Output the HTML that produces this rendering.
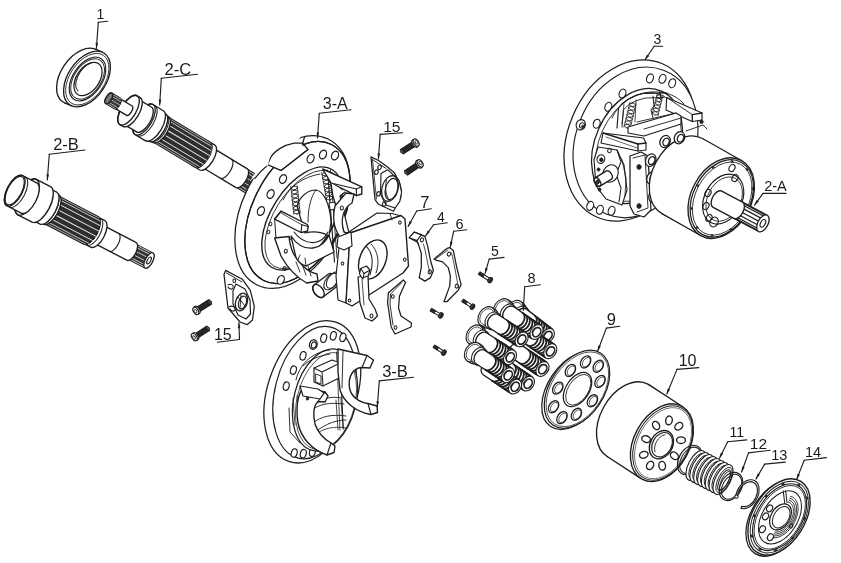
<!DOCTYPE html>
<html><head><meta charset="utf-8"><style>
html,body{margin:0;padding:0;background:#fff;width:841px;height:563px;overflow:hidden}
svg{display:block;filter:grayscale(1)}
text{font-family:"Liberation Sans",sans-serif;fill:#1a1a1a;stroke:none}
</style></head><body>
<svg width="841" height="563" viewBox="0 0 841 563" stroke="#1e1e1e" stroke-width="1.35" fill="none" stroke-linejoin="round" stroke-linecap="round">
<rect width="841" height="563" fill="#fff" stroke="none"/>
<ellipse cx="80" cy="76" rx="19" ry="31" fill="#fff" transform="rotate(34 80 76)"/>
<path d="M64.6,102.8 L71.6,105.8 L102.4,52.2 L95.4,49.2Z" fill="#fff" stroke="none"/>
<line x1="64.6" y1="102.8" x2="71.6" y2="105.8"/>
<line x1="95.4" y1="49.2" x2="102.4" y2="52.2"/>
<ellipse cx="87" cy="79" rx="19" ry="31" fill="#fff" transform="rotate(34 87 79)"/>
<ellipse cx="87.3" cy="79.2" rx="17.5" ry="28.8" fill="none" stroke-width="0.80" transform="rotate(34 87.3 79.2)"/>
<ellipse cx="87.5" cy="79" rx="14.6" ry="24.5" fill="none" stroke-width="1.15" transform="rotate(34 87.5 79)"/>
<ellipse cx="87.6" cy="79" rx="13.5" ry="22.6" fill="none" stroke-width="0.92" transform="rotate(34 87.6 79)"/>
<ellipse cx="88" cy="79" rx="11.4" ry="18.6" fill="#fff" stroke-width="1.26" transform="rotate(34 88 79)"/>
<path d="M78,91 A9.9,17.1 34 0 1 91,63" fill="none" stroke-width="1.03"/>
<path d="M235.4,186.7 L250,195.4 A4.7,10.5 31 0 0 260.8,177.4 L246.2,168.7 A4.7,10.5 31 0 0 235.4,186.7Z" fill="#333"/>
<line x1="246.8" y1="170" x2="259.7" y2="177.8" stroke="#ddd" stroke-width="0.9"/>
<line x1="247.3" y1="173.3" x2="260.2" y2="181.1" stroke="#ddd" stroke-width="0.9"/>
<line x1="246.1" y1="177.8" x2="258.9" y2="185.5" stroke="#ddd" stroke-width="0.9"/>
<line x1="243.4" y1="182.2" x2="256.3" y2="190" stroke="#ddd" stroke-width="0.9"/>
<line x1="240.1" y1="185.4" x2="252.9" y2="193.2" stroke="#ddd" stroke-width="0.9"/>
<line x1="236.9" y1="186.6" x2="249.8" y2="194.3" stroke="#ddd" stroke-width="0.9"/>
<path d="M201.7,167 L236,187.6 A5,11 31 0 0 247.4,168.8 L213.1,148.2 A5,11 31 0 0 201.7,167Z" fill="#fff"/>
<ellipse cx="207.4" cy="157.6" rx="5" ry="11" fill="none" transform="rotate(31 207.4 157.6)"/>
<path d="M220.6,178.3 A5,11 31 0 0 231.9,159.5" fill="none" stroke-width="1.15"/>
<path d="M193.1,165.9 L199.9,170 A6.5,14.5 31 0 0 214.9,145.2 L208,141 A6.5,14.5 31 0 0 193.1,165.9Z" fill="#fff"/>
<ellipse cx="200.5" cy="153.5" rx="6.5" ry="14.5" fill="none" transform="rotate(31 200.5 153.5)"/>
<path d="M195.6,167.4 A6.5,14.5 31 0 0 210.6,142.6" fill="none" stroke-width="1.03"/>
<path d="M153.6,142.2 L194.8,166.9 A6.5,14.5 31 0 0 209.7,142.1 L168.6,117.3 A6.5,14.5 31 0 0 153.6,142.2Z" fill="#2e2e2e"/>
<ellipse cx="161.1" cy="129.8" rx="6.5" ry="14.5" fill="#fff" stroke-width="1.15" transform="rotate(31 161.1 129.8)"/>
<line x1="169.3" y1="118.6" x2="210.5" y2="143.3" stroke="#eeeeee" stroke-width="0.6072996771088706"/>
<line x1="170.2" y1="121.6" x2="211.4" y2="146.3" stroke="#eeeeee" stroke-width="0.8055636281607813"/>
<line x1="169.8" y1="125.9" x2="210.9" y2="150.6" stroke="#eeeeee" stroke-width="0.9573082867663999"/>
<line x1="168" y1="130.7" x2="209.2" y2="155.4" stroke="#eeeeee" stroke-width="1.0394319042217768"/>
<line x1="165.2" y1="135.4" x2="206.3" y2="160.1" stroke="#eeeeee" stroke-width="1.0394319042217768"/>
<line x1="161.7" y1="139.3" x2="202.9" y2="164" stroke="#eeeeee" stroke-width="0.9573082867664"/>
<line x1="158.2" y1="141.7" x2="199.3" y2="166.4" stroke="#eeeeee" stroke-width="0.8055636281607812"/>
<line x1="155.1" y1="142.3" x2="196.2" y2="167" stroke="#eeeeee" stroke-width="0.6072996771088707"/>
<path d="M150,140.6 L153.4,142.6 A6.8,15 31 0 0 168.8,116.9 L165.4,114.9 A6.8,15 31 0 0 150,140.6Z" fill="#fff"/>
<ellipse cx="157.7" cy="127.7" rx="6.8" ry="15" fill="none" transform="rotate(31 157.7 127.7)"/>
<path d="M151.7,141.6 A6.8,15 31 0 0 167.1,115.9" fill="none" stroke-width="1.03"/>
<path d="M146,139.4 L149.4,141.4 A7.2,16 31 0 0 165.9,114 L162.5,111.9 A7.2,16 31 0 0 146,139.4Z" fill="#fff"/>
<ellipse cx="154.3" cy="125.7" rx="7.2" ry="16" fill="none" transform="rotate(31 154.3 125.7)"/>
<path d="M135,134.5 L145.2,140.7 A7.9,17.5 31 0 0 163.3,110.7 L153,104.5 A7.9,17.5 31 0 0 135,134.5Z" fill="#fff"/>
<ellipse cx="144" cy="119.5" rx="7.9" ry="17.5" fill="none" transform="rotate(31 144 119.5)"/>
<path d="M137.1,135.8 A7.9,17.5 31 0 0 155.1,105.8" fill="none" stroke-width="1.03"/>
<path d="M124.1,124.4 L136.5,131.9 A6.5,14.5 31 0 0 151.4,107 L139,99.6 A6.5,14.5 31 0 0 124.1,124.4Z" fill="#fff"/>
<ellipse cx="131.5" cy="112" rx="6.5" ry="14.5" fill="none" transform="rotate(31 131.5 112)"/>
<path d="M119.9,124.6 L122.9,126.4 A7.6,16.8 31 0 0 140.2,97.6 L137.2,95.8 A7.6,16.8 31 0 0 119.9,124.6Z" fill="#fff"/>
<ellipse cx="128.5" cy="110.2" rx="7.6" ry="16.8" fill="none" transform="rotate(31 128.5 110.2)"/>
<path d="M114.6,108.2 L126.6,115.4 A2.5,5.5 31 0 0 132.2,106 L120.2,98.8 A2.5,5.5 31 0 0 114.6,108.2Z" fill="#fff"/>
<ellipse cx="117.4" cy="103.5" rx="2.5" ry="5.5" fill="none" transform="rotate(31 117.4 103.5)"/>
<path d="M105.7,103.5 L114.3,108.6 A2.7,6 31 0 0 120.5,98.4 L111.9,93.2 A2.7,6 31 0 0 105.7,103.5Z" fill="#3a3a3a"/>
<line x1="112.3" y1="94.1" x2="120.9" y2="99.3" stroke="#ccc" stroke-width="0.8"/>
<line x1="112.4" y1="96.6" x2="121" y2="101.8" stroke="#ccc" stroke-width="0.8"/>
<line x1="111.1" y1="99.7" x2="119.7" y2="104.9" stroke="#ccc" stroke-width="0.8"/>
<line x1="109" y1="102.4" x2="117.5" y2="107.5" stroke="#ccc" stroke-width="0.8"/>
<line x1="106.8" y1="103.4" x2="115.3" y2="108.6" stroke="#ccc" stroke-width="0.8"/>
<ellipse cx="108.8" cy="98.4" rx="2.7" ry="6" fill="#777" transform="rotate(31 108.8 98.4)"/>
<path d="M127.9,259.1 L145.1,268 A3.8,8.5 27.5 0 0 152.9,253 L135.7,244 A3.8,8.5 27.5 0 0 127.9,259.1Z" fill="#333"/>
<line x1="136.3" y1="245.1" x2="151.7" y2="253.1" stroke="#ddd" stroke-width="0.9"/>
<line x1="136.8" y1="247.7" x2="152.3" y2="255.8" stroke="#ddd" stroke-width="0.9"/>
<line x1="136" y1="251.4" x2="151.5" y2="259.4" stroke="#ddd" stroke-width="0.9"/>
<line x1="134.1" y1="255.1" x2="149.5" y2="263.1" stroke="#ddd" stroke-width="0.9"/>
<line x1="131.5" y1="257.9" x2="147" y2="265.9" stroke="#ddd" stroke-width="0.9"/>
<line x1="129.1" y1="258.9" x2="144.5" y2="267" stroke="#ddd" stroke-width="0.9"/>
<ellipse cx="149" cy="260.5" rx="3.8" ry="8.5" fill="#fff" stroke-width="1.26" transform="rotate(27.5 149 260.5)"/>
<ellipse cx="149" cy="260.5" rx="1.7" ry="3.8" fill="#fff" stroke-width="1.15" transform="rotate(27.5 149 260.5)"/>
<path d="M93.5,242.9 L127.2,260.4 A4.5,10 27.5 0 0 136.4,242.7 L102.7,225.1 A4.5,10 27.5 0 0 93.5,242.9Z" fill="#fff"/>
<ellipse cx="98.1" cy="234" rx="4.5" ry="10" fill="none" transform="rotate(27.5 98.1 234)"/>
<path d="M109.4,251.2 A4.5,10 27.5 0 0 118.7,233.4" fill="none" stroke-width="1.15"/>
<path d="M84.1,243.6 L91.2,247.3 A6.8,15 27.5 0 0 105,220.7 L97.9,217 A6.8,15 27.5 0 0 84.1,243.6Z" fill="#fff"/>
<ellipse cx="91" cy="230.3" rx="6.8" ry="15" fill="none" transform="rotate(27.5 91 230.3)"/>
<path d="M86.7,245 A6.8,15 27.5 0 0 100.6,218.4" fill="none" stroke-width="1.03"/>
<path d="M43.9,223.3 L83.8,244.1 A7,15.5 27.5 0 0 98.1,216.6 L58.2,195.8 A7,15.5 27.5 0 0 43.9,223.3Z" fill="#2e2e2e"/>
<ellipse cx="51.1" cy="209.5" rx="7" ry="15.5" fill="#fff" stroke-width="1.15" transform="rotate(27.5 51.1 209.5)"/>
<line x1="59.1" y1="197.1" x2="99" y2="217.9" stroke="#eeeeee" stroke-width="0.6072996771088706"/>
<line x1="60.3" y1="200.2" x2="100.2" y2="221" stroke="#eeeeee" stroke-width="0.8055636281607813"/>
<line x1="60.1" y1="204.8" x2="100" y2="225.6" stroke="#eeeeee" stroke-width="0.9573082867663999"/>
<line x1="58.5" y1="210.1" x2="98.4" y2="230.9" stroke="#eeeeee" stroke-width="1.0394319042217768"/>
<line x1="55.8" y1="215.3" x2="95.7" y2="236.1" stroke="#eeeeee" stroke-width="1.0394319042217768"/>
<line x1="52.4" y1="219.6" x2="92.3" y2="240.4" stroke="#eeeeee" stroke-width="0.9573082867664"/>
<line x1="48.7" y1="222.4" x2="88.6" y2="243.2" stroke="#eeeeee" stroke-width="0.8055636281607812"/>
<line x1="45.5" y1="223.2" x2="85.4" y2="244" stroke="#eeeeee" stroke-width="0.6072996771088707"/>
<path d="M39,221.9 L43.4,224.2 A7.4,16.5 27.5 0 0 58.7,194.9 L54.3,192.6 A7.4,16.5 27.5 0 0 39,221.9Z" fill="#fff"/>
<ellipse cx="46.6" cy="207.2" rx="7.4" ry="16.5" fill="none" transform="rotate(27.5 46.6 207.2)"/>
<path d="M41.7,223.2 A7.4,16.5 27.5 0 0 56.9,194" fill="none" stroke-width="1.03"/>
<path d="M33,220.4 L40.1,224.1 A8.1,18 27.5 0 0 56.7,192.2 L49.6,188.5 A8.1,18 27.5 0 0 33,220.4Z" fill="#fff"/>
<ellipse cx="41.3" cy="204.5" rx="8.1" ry="18" fill="none" transform="rotate(27.5 41.3 204.5)"/>
<path d="M17.9,214.8 L32.1,222.2 A9,20 27.5 0 0 50.5,186.7 L36.4,179.3 A9,20 27.5 0 0 17.9,214.8Z" fill="#fff"/>
<ellipse cx="27.1" cy="197.1" rx="9" ry="20" fill="none" transform="rotate(27.5 27.1 197.1)"/>
<path d="M6.9,205.7 L21,213.1 A7.7,17 27.5 0 0 36.7,182.9 L22.5,175.5 A7.7,17 27.5 0 0 6.9,205.7Z" fill="#fff"/>
<ellipse cx="14.7" cy="190.6" rx="7.7" ry="17" fill="none" transform="rotate(27.5 14.7 190.6)"/>
<ellipse cx="14.7" cy="190.6" rx="7" ry="15.6" fill="none" stroke-width="1.03" transform="rotate(27.5 14.7 190.6)"/>
<path d="M9.5,207.1 A7.7,17 27.5 0 0 25.2,176.9" fill="none" stroke-width="1.03"/>
<ellipse cx="629.8" cy="140.5" rx="62.1" ry="83.4" fill="#fff" stroke-width="1.26" transform="rotate(22.6 629.8 140.5)"/>
<ellipse cx="635.5" cy="142.4" rx="59.6" ry="77.4" fill="#fff" stroke-width="1.15" transform="rotate(21.7 635.5 142.4)"/>
<ellipse cx="650" cy="78.4" rx="3.3" ry="4.6" fill="#fff" stroke-width="1.15" transform="rotate(20 650 78.4)"/>
<ellipse cx="662.5" cy="78.8" rx="3.3" ry="4.6" fill="#fff" stroke-width="1.15" transform="rotate(20 662.5 78.8)"/>
<ellipse cx="672.2" cy="83.2" rx="3.3" ry="4.6" fill="#fff" stroke-width="1.15" transform="rotate(20 672.2 83.2)"/>
<ellipse cx="622.5" cy="93.5" rx="3.3" ry="4.6" fill="#fff" stroke-width="1.15" transform="rotate(20 622.5 93.5)"/>
<ellipse cx="608.3" cy="106.8" rx="3.3" ry="4.6" fill="#fff" stroke-width="1.15" transform="rotate(20 608.3 106.8)"/>
<ellipse cx="596.7" cy="123.7" rx="3.3" ry="4.6" fill="#fff" stroke-width="1.15" transform="rotate(20 596.7 123.7)"/>
<ellipse cx="590.2" cy="205.9" rx="3.3" ry="4.6" fill="#fff" stroke-width="1.15" transform="rotate(20 590.2 205.9)"/>
<ellipse cx="599.9" cy="209.8" rx="3.3" ry="4.6" fill="#fff" stroke-width="1.15" transform="rotate(20 599.9 209.8)"/>
<ellipse cx="611.6" cy="210.8" rx="3.3" ry="4.6" fill="#fff" stroke-width="1.15" transform="rotate(20 611.6 210.8)"/>
<ellipse cx="580.8" cy="124.8" rx="4.6" ry="5.2" fill="#fff" stroke-width="1.15" transform="rotate(20 580.8 124.8)"/>
<ellipse cx="582" cy="125.5" rx="2.4" ry="2.8" fill="none" stroke-width="1.03" transform="rotate(20 582 125.5)"/>
<ellipse cx="582.8" cy="126.5" rx="1.2" ry="1.4" fill="#333" stroke-width="0.57"/>
<ellipse cx="637" cy="146" rx="42" ry="60" fill="#fff" stroke-width="1.26" transform="rotate(24 637 146)"/>
<ellipse cx="638.5" cy="147" rx="39.5" ry="57" fill="none" stroke-width="0.80" transform="rotate(24 638.5 147)"/>
<path d="M612,118 C618,104 632,94 650,92 C665,91 676,95 684,104" fill="none" stroke-width="0.92"/>
<path d="M617,128 L618.5,108 C624,100 633,95.5 643,93.5 L667,93" fill="none" stroke-width="1.15"/>
<path d="M622,127 L623.5,110 C628,104 636,100 646,98 L664,97.5" fill="none" stroke-width="0.92"/>
<path d="M633,103 L631.8,103.1 L630.7,103.3 L629.9,103.6 L629.5,103.9 L629.5,104.4 L629.9,104.9 L630.6,105.5 L631.6,106.2 L632.6,106.9 L633.6,107.5 L634.3,108.2 L634.8,108.7 L634.8,109.2 L634.4,109.5 L633.7,109.8 L632.7,110 L631.5,110.1 L630.2,110.3 L629.1,110.4 L628.3,110.7 L627.8,111 L627.8,111.4 L628.1,112 L628.8,112.6 L629.7,113.2 L630.7,113.9 L631.7,114.6 L632.5,115.2 L633,115.8 L633.1,116.2 L632.8,116.6 L632.1,116.9 L631.1,117.1 L629.9,117.2 L628.7,117.4 L627.6,117.6 L626.7,117.8 L626.2,118.1 L626,118.5 L626.3,119 L626.9,119.6 L627.8,120.3 L628.9,121 L629.9,121.6 L630.7,122.3 L631.2,122.8 L631.4,123.3 L631.2,123.7 L630.5,124 L629.6,124.2 L628.4,124.4 L627.2,124.5 L626,124.7 L625.1,124.9 L624.5,125.2 L624.3,125.6 L624.5,126.1 L625.1,126.7 L626,127.3 L627,128" stroke-width="0.9"/>
<path d="M633,103 L634,103.7 L634.9,104.3 L635.5,104.9 L635.7,105.4 L635.5,105.8 L634.9,106.1 L634,106.3 L632.8,106.5 L631.6,106.6 L630.4,106.8 L629.5,107 L628.8,107.3 L628.6,107.7 L628.8,108.2 L629.3,108.7 L630.1,109.4 L631.1,110 L632.2,110.7 L633.1,111.4 L633.7,112 L634,112.5 L633.8,112.9 L633.3,113.2 L632.4,113.4 L631.3,113.6 L630.1,113.8 L628.9,113.9 L627.9,114.1 L627.2,114.4 L626.9,114.8 L627,115.2 L627.5,115.8 L628.3,116.4 L629.3,117.1 L630.3,117.8 L631.2,118.4 L631.9,119 L632.2,119.6 L632.2,120 L631.7,120.3 L630.9,120.6 L629.8,120.7 L628.5,120.9 L627.3,121 L626.3,121.2 L625.6,121.5 L625.2,121.8 L625.2,122.3 L625.7,122.8 L626.4,123.5 L627.4,124.1 L628.4,124.8 L629.4,125.5 L630.1,126.1 L630.5,126.6 L630.5,127.1 L630.1,127.4 L629.3,127.7 L628.2,127.9 L627,128" stroke-width="0.9"/>
<line x1="629.9" y1="102.3" x2="623.9" y2="127.3" stroke-width="0.7200000000000001"/>
<line x1="636.1" y1="103.7" x2="630.1" y2="128.7" stroke-width="0.7200000000000001"/>
<path d="M660,95 L659,95.1 L658.1,95.2 L657.4,95.4 L656.9,95.6 L656.7,95.9 L656.7,96.3 L657.1,96.7 L657.6,97.2 L658.4,97.8 L659.2,98.3 L660,98.9 L660.7,99.4 L661.3,99.9 L661.6,100.4 L661.7,100.7 L661.4,101 L660.9,101.3 L660.2,101.4 L659.3,101.6 L658.3,101.7 L657.4,101.8 L656.5,101.9 L655.7,102.1 L655.2,102.3 L655,102.6 L655.1,103 L655.4,103.4 L656,103.9 L656.7,104.4 L657.5,105 L658.3,105.6 L659,106.1 L659.6,106.6 L659.9,107 L660,107.4 L659.8,107.7 L659.3,107.9 L658.5,108.1 L657.6,108.2 L656.7,108.3 L655.7,108.4 L654.8,108.6 L654.1,108.7 L653.6,109 L653.3,109.3 L653.4,109.6 L653.7,110.1 L654.3,110.6 L655,111.1 L655.8,111.7 L656.6,112.2 L657.4,112.8 L657.9,113.3 L658.3,113.7 L658.3,114.1 L658.1,114.4 L657.6,114.6 L656.9,114.8 L656,114.9 L655,115" stroke-width="0.9"/>
<path d="M660,95 L660.8,95.6 L661.5,96.1 L662.1,96.6 L662.4,97 L662.5,97.4 L662.3,97.7 L661.8,97.9 L661,98.1 L660.1,98.2 L659.2,98.3 L658.2,98.4 L657.3,98.6 L656.6,98.7 L656.1,99 L655.8,99.3 L655.9,99.6 L656.2,100.1 L656.8,100.6 L657.5,101.1 L658.3,101.7 L659.1,102.2 L659.9,102.8 L660.4,103.3 L660.8,103.7 L660.8,104.1 L660.6,104.4 L660.1,104.6 L659.4,104.8 L658.5,104.9 L657.5,105 L656.5,105.1 L655.6,105.2 L654.9,105.4 L654.4,105.6 L654.2,105.9 L654.2,106.3 L654.6,106.7 L655.1,107.2 L655.9,107.8 L656.7,108.3 L657.5,108.9 L658.2,109.4 L658.8,109.9 L659.1,110.4 L659.2,110.7 L658.9,111 L658.4,111.3 L657.7,111.4 L656.8,111.6 L655.8,111.7 L654.9,111.8 L654,111.9 L653.2,112.1 L652.7,112.3 L652.5,112.6 L652.6,113 L652.9,113.4 L653.5,113.9 L654.2,114.4 L655,115" stroke-width="0.9"/>
<line x1="657.1" y1="94.3" x2="652.1" y2="114.3" stroke-width="0.7200000000000001"/>
<line x1="662.9" y1="95.7" x2="657.9" y2="115.7" stroke-width="0.7200000000000001"/>
<path d="M653,96 L654,106 L651,110 L653,118" fill="none" stroke-width="1.03"/>
<path d="M658,94 L660,92 L661,100" fill="none" stroke-width="1.03"/>
<path d="M624,104 L622,124 M636,100 L635,122" fill="none" stroke-width="0.80"/>
<path d="M666.7,97.5 L702,113 L702,120 L692.3,121.5 L666,110Z" fill="#fff" stroke-width="1.15"/>
<line x1="692.3" y1="114.6" x2="702" y2="113"/>
<line x1="692.3" y1="114.6" x2="692.3" y2="121.5"/>
<line x1="666.7" y1="97.5" x2="692.3" y2="114.6" stroke-width="0.92"/>
<path d="M628,127 L676,113 L681,116 L681,124 L644,136 L628,133Z" fill="#fff" stroke-width="1.15"/>
<line x1="637" y1="122" x2="676" y2="113" stroke-width="0.92"/>
<line x1="644" y1="129" x2="681" y2="118" stroke-width="0.92"/>
<path d="M603,133 L643.5,138 L646,143 L646,150 L638,151 L601,143Z" fill="#fff" stroke-width="1.15"/>
<line x1="603" y1="133" x2="638" y2="144"/>
<line x1="638" y1="144" x2="638" y2="151"/>
<line x1="638" y1="144" x2="646" y2="143"/>
<line x1="606" y1="137" x2="637" y2="148" stroke-width="0.69"/>
<path d="M598,147 L617,150 L624,165 L627,190 L622,205 L606,199 L596,186 L594,160Z" fill="#fff" stroke-width="1.15"/>
<path d="M617,150 L621,162 L616,174 L621,188 L619,202" fill="none" stroke-width="1.03"/>
<path d="M622,160 L626,178 L625,196" fill="none" stroke-width="0.80"/>
<ellipse cx="600.9" cy="159.1" rx="3.8" ry="4.4" fill="#fff" stroke-width="1.15" transform="rotate(20 600.9 159.1)"/>
<ellipse cx="601.3" cy="159.8" rx="1.7" ry="2" fill="#222" stroke-width="0.69" transform="rotate(20 601.3 159.8)"/>
<ellipse cx="609.5" cy="150.5" rx="1.8" ry="2.2" fill="none" stroke-width="0.92" transform="rotate(20 609.5 150.5)"/>
<ellipse cx="610.5" cy="173.5" rx="7.5" ry="9" fill="#fff" stroke-width="1.15" transform="rotate(25 610.5 173.5)"/>
<path d="M606.5,170.9 L595,177.9 A2.6,4.8 148.7 0 0 600,186.1 L611.5,179.1 A2.6,4.8 148.7 0 0 606.5,170.9Z" fill="#fff"/>
<ellipse cx="597.5" cy="182" rx="2.6" ry="4.8" fill="none" transform="rotate(148.7 597.5 182)"/>
<ellipse cx="597.5" cy="182" rx="1.9" ry="2.2" fill="#333" stroke-width="0.69" transform="rotate(20 597.5 182)"/>
<ellipse cx="598.5" cy="169.5" rx="1.5" ry="1.8" fill="#222" stroke-width="0.57"/>
<ellipse cx="599.5" cy="189.5" rx="1.5" ry="1.8" fill="#222" stroke-width="0.57"/>
<path d="M630,156 L641,152 L648,156 L651,210 L644,217 L634,214 L630,206Z" fill="#fff" stroke-width="1.26"/>
<path d="M633,158 L645,155 L648,208 L637,212" fill="none" stroke-width="0.92"/>
<ellipse cx="639" cy="166.9" rx="2.2" ry="2.5" fill="#222" stroke-width="0.69"/>
<ellipse cx="639" cy="206" rx="2.2" ry="2.5" fill="#222" stroke-width="0.69"/>
<ellipse cx="650.7" cy="160.1" rx="5" ry="6.5" fill="#fff" stroke-width="1.26" transform="rotate(25 650.7 160.1)"/>
<ellipse cx="651.7" cy="160.6" rx="3" ry="4.2" fill="none" stroke-width="1.38" transform="rotate(25 651.7 160.6)"/>
<ellipse cx="652" cy="178" rx="5" ry="6.5" fill="#fff" stroke-width="1.26" transform="rotate(25 652 178)"/>
<ellipse cx="653" cy="178.5" rx="3" ry="4.2" fill="none" stroke-width="1.38" transform="rotate(25 653 178.5)"/>
<ellipse cx="654" cy="196" rx="5" ry="6.5" fill="#fff" stroke-width="1.26" transform="rotate(25 654 196)"/>
<ellipse cx="655" cy="196.5" rx="3" ry="4.2" fill="none" stroke-width="1.38" transform="rotate(25 655 196.5)"/>
<ellipse cx="682.5" cy="176.2" rx="30" ry="42.7" fill="#fff" stroke-width="1.26" transform="rotate(28 682.5 176.2)"/>
<path d="M661.9,213.6 L700.6,235.5 L741.8,160.7 L703,138.8Z" fill="#fff" stroke="none"/>
<line x1="661.9" y1="213.6" x2="700.6" y2="235.5" stroke-width="1.26"/>
<line x1="703" y1="138.8" x2="741.8" y2="160.7" stroke-width="1.26"/>
<ellipse cx="665.1" cy="141.5" rx="5" ry="6.3" fill="#fff" stroke-width="1.26" transform="rotate(25 665.1 141.5)"/>
<ellipse cx="666.1" cy="142" rx="3" ry="4" fill="none" stroke-width="1.38" transform="rotate(25 666.1 142)"/>
<ellipse cx="679.5" cy="137.7" rx="5" ry="6.3" fill="#fff" stroke-width="1.26" transform="rotate(25 679.5 137.7)"/>
<ellipse cx="680.5" cy="138.2" rx="3" ry="4" fill="none" stroke-width="1.38" transform="rotate(25 680.5 138.2)"/>
<path d="M686,131 L703,125 L707,129" fill="none" stroke-width="0.92"/>
<ellipse cx="701.5" cy="121.8" rx="1.7" ry="2" fill="#222" stroke-width="0.57"/>
<ellipse cx="721.2" cy="198.1" rx="30" ry="42.7" fill="#fff" stroke-width="1.38" transform="rotate(28 721.2 198.1)"/>
<ellipse cx="721.8" cy="198.4" rx="28.5" ry="41" fill="none" stroke-width="1.26" transform="rotate(28 721.8 198.4)"/>
<ellipse cx="722.2" cy="198.6" rx="26.7" ry="38.9" fill="none" stroke-width="0.80" transform="rotate(28 722.2 198.6)"/>
<ellipse cx="746.4" cy="211.5" rx="1" ry="1.2" fill="#333" stroke-width="0.46"/>
<ellipse cx="730.9" cy="229.4" rx="1" ry="1.2" fill="#333" stroke-width="0.46"/>
<ellipse cx="712" cy="235.5" rx="1" ry="1.2" fill="#333" stroke-width="0.46"/>
<ellipse cx="696.9" cy="227.5" rx="1" ry="1.2" fill="#333" stroke-width="0.46"/>
<ellipse cx="691.4" cy="208.4" rx="1" ry="1.2" fill="#333" stroke-width="0.46"/>
<ellipse cx="697.6" cy="185.5" rx="1" ry="1.2" fill="#333" stroke-width="0.46"/>
<ellipse cx="713.1" cy="167.6" rx="1" ry="1.2" fill="#333" stroke-width="0.46"/>
<ellipse cx="732" cy="161.5" rx="1" ry="1.2" fill="#333" stroke-width="0.46"/>
<ellipse cx="747.1" cy="169.5" rx="1" ry="1.2" fill="#333" stroke-width="0.46"/>
<ellipse cx="752.6" cy="188.6" rx="1" ry="1.2" fill="#333" stroke-width="0.46"/>
<ellipse cx="723.2" cy="199.1" rx="18.6" ry="26.5" fill="none" stroke-width="1.15" transform="rotate(28 723.2 199.1)"/>
<ellipse cx="724.2" cy="199.1" rx="16.5" ry="23.5" fill="none" stroke-width="0.80" transform="rotate(28 724.2 199.1)"/>
<ellipse cx="708" cy="193" rx="2.8" ry="3.8" fill="none" stroke-width="1.15" transform="rotate(28 708 193)"/>
<ellipse cx="706" cy="206" rx="2.8" ry="3.8" fill="none" stroke-width="1.15" transform="rotate(28 706 206)"/>
<ellipse cx="709" cy="218" rx="2.8" ry="3.8" fill="none" stroke-width="1.15" transform="rotate(28 709 218)"/>
<ellipse cx="735" cy="178" rx="2.8" ry="3.8" fill="none" stroke-width="1.15" transform="rotate(28 735 178)"/>
<ellipse cx="732" cy="168" rx="2.8" ry="3.8" fill="none" stroke-width="1.15" transform="rotate(28 732 168)"/>
<ellipse cx="714" cy="222" rx="4" ry="5" fill="none" stroke-width="1.15" transform="rotate(28 714 222)"/>
<path d="M732.1,217.5 L758.6,231.5 A5.1,9.2 28 0 0 767.2,215.3 L740.7,201.2 A5.1,9.2 28 0 0 732.1,217.5Z" fill="#fff"/>
<line x1="741.4" y1="202.3" x2="766.1" y2="215.5" stroke="#222" stroke-width="1.3"/>
<line x1="742.4" y1="204.8" x2="767.1" y2="217.9" stroke="#222" stroke-width="1.3"/>
<line x1="742.2" y1="208.1" x2="767" y2="221.3" stroke="#222" stroke-width="1.3"/>
<line x1="740.9" y1="211.7" x2="765.6" y2="224.8" stroke="#222" stroke-width="1.3"/>
<line x1="738.7" y1="214.8" x2="763.4" y2="228" stroke="#222" stroke-width="1.3"/>
<line x1="736" y1="216.8" x2="760.7" y2="230" stroke="#222" stroke-width="1.3"/>
<line x1="733.4" y1="217.4" x2="758.1" y2="230.5" stroke="#222" stroke-width="1.3"/>
<ellipse cx="762.9" cy="223.4" rx="5.1" ry="9.2" fill="#fff" stroke-width="1.26" transform="rotate(28 762.9 223.4)"/>
<ellipse cx="762.9" cy="223.4" rx="2.3" ry="4.1" fill="#fff" stroke-width="1.15" transform="rotate(28 762.9 223.4)"/>
<path d="M712.7,207.1 L733.9,218.4 A5.1,9.2 28 0 0 742.5,202.1 L721.3,190.9 A5.1,9.2 28 0 0 712.7,207.1Z" fill="#fff"/>
<ellipse cx="292.6" cy="212" rx="50.6" ry="81.1" fill="#fff" stroke-width="1.26" transform="rotate(25.9 292.6 212)"/>
<ellipse cx="297.5" cy="212.5" rx="45" ry="76" fill="#fff" stroke-width="1.26" transform="rotate(26.5 297.5 212.5)"/>
<path d="M250,181.1 L250.7,180 L251.3,178.9 L252,177.8 L252.7,176.7 L253.4,175.6 L254.1,174.5 L254.8,173.4 L255.5,172.3 L256.3,171.3 L257,170.2 L257.8,169.2 L258.5,168.1 L259.3,167.1 L260.1,166.1 L260.8,165.1 L261.6,164.1 L262.4,163.2 L263.2,162.2 L264.1,161.3 L264.9,160.3 L265.7,159.4 L266.5,158.5 L267.4,157.6 L268.2,156.7 L269.1,155.9 L270,155 L270.8,154.2 L271.7,153.3 L272.6,152.5 L273.4,151.7 L274.3,150.9 L275.2,150.2 L276.1,149.4 L277,148.7 L277.9,148 L278.8,147.3 L279.7,146.6 L280.6,145.9 L281.6,145.2 L282.5,144.6 L283.4,144 L284.3,143.4 L285.2,142.8 L286.2,142.2 L287.1,141.6 L288,141.1 L289,140.6 L289.9,140.1 L290.8,139.6 L291.8,139.1 L292.7,138.7 L293.6,138.2 L294.6,137.8 L295.5,137.4 L296.4,137.1 L297.4,136.7 L298.3,136.4 L299.2,136 L300.1,135.7 L301.1,135.4 L302,135.2 L302.9,134.9 L252,183 L256,178 L268.5,165 L270.5,158 L274,151.5 L284,145.5 L294,143.2 L302.6,143.2 L303.5,137Z" fill="#fff" stroke="none"/>
<ellipse cx="297.5" cy="212.5" rx="45" ry="76" fill="none" stroke-width="1.26" transform="rotate(26.5 297.5 212.5)"/>
<path d="M268.5,165 L281,170.5 L308,149.5 L302.6,143.2" fill="none" stroke-width="1.15"/>
<path d="M255,178.5 C259,173 264,168 268.5,165 L270.5,158 C274,151 284,145 294,143.2 L302.6,143.2 L304.5,137.2" fill="none" stroke-width="1.26"/>
<path d="M266,168 L272,157 L281,149 L294,145 L302,145 L306,149.5 L281,169.5 L269,165Z" fill="#fff" stroke="none"/>
<path d="M268.5,165 L281,170.5 L308,149.5 L302.6,143.2" fill="none" stroke-width="1.15"/>
<ellipse cx="283" cy="179" rx="3.3" ry="4.5" fill="#fff" stroke-width="1.26" transform="rotate(25 283 179)"/>
<ellipse cx="270.6" cy="194" rx="3.3" ry="4.5" fill="#fff" stroke-width="1.26" transform="rotate(25 270.6 194)"/>
<ellipse cx="260.9" cy="211" rx="3.3" ry="4.5" fill="#fff" stroke-width="1.26" transform="rotate(25 260.9 211)"/>
<ellipse cx="310.6" cy="158.6" rx="3.3" ry="4.5" fill="#fff" stroke-width="1.26" transform="rotate(25 310.6 158.6)"/>
<ellipse cx="323" cy="154.5" rx="3.3" ry="4.5" fill="#fff" stroke-width="1.26" transform="rotate(25 323 154.5)"/>
<ellipse cx="335" cy="155.5" rx="3.3" ry="4.5" fill="#fff" stroke-width="1.26" transform="rotate(25 335 155.5)"/>
<ellipse cx="280.8" cy="279.9" rx="3.3" ry="4.5" fill="#fff" stroke-width="1.26" transform="rotate(25 280.8 279.9)"/>
<ellipse cx="302" cy="218.5" rx="31" ry="57.5" fill="#fff" stroke-width="1.38" transform="rotate(32 302 218.5)"/>
<ellipse cx="303" cy="219.5" rx="29" ry="55" fill="none" stroke-width="0.80" transform="rotate(32 303 219.5)"/>
<path d="M283,200 C290,186 303,177 320,174" fill="none" stroke-width="0.92"/>
<path d="M297,206 C300,196 308,190 316,190 C324,191 330,205 331,222 L329,236 C322,232 313,231 305,233 Z" fill="#fff" stroke-width="1.15"/>
<path d="M316,190 C311,196 308,208 308,222" fill="none" stroke-width="0.92"/>
<line x1="327.5" y1="170" x2="334.5" y2="262" stroke-width="1.15"/>
<line x1="330.5" y1="170" x2="337" y2="258" stroke-width="0.92"/>
<path d="M325,172 L323.9,172.7 L322.9,173.3 L322.3,173.9 L322,174.5 L322.2,174.9 L322.8,175.3 L323.8,175.6 L325,175.9 L326.3,176.1 L327.5,176.4 L328.5,176.7 L329.2,177 L329.4,177.5 L329.2,178 L328.6,178.6 L327.7,179.2 L326.6,179.9 L325.5,180.6 L324.5,181.2 L323.8,181.9 L323.4,182.4 L323.6,182.9 L324.1,183.2 L325,183.6 L326.2,183.8 L327.5,184.1 L328.8,184.3 L329.8,184.6 L330.5,185 L330.8,185.4 L330.7,185.9 L330.2,186.5 L329.3,187.1 L328.2,187.8 L327.1,188.5 L326,189.2 L325.3,189.8 L324.9,190.3 L324.9,190.8 L325.4,191.2 L326.3,191.5 L327.5,191.8 L328.8,192 L330,192.3 L331.1,192.6 L331.9,192.9 L332.3,193.3 L332.2,193.8 L331.7,194.4 L330.8,195 L329.8,195.7 L328.6,196.4 L327.6,197.1 L326.8,197.7 L326.4,198.2 L326.3,198.7 L326.8,199.1 L327.6,199.5 L328.7,199.7 L330,200" stroke-width="1.0"/>
<path d="M325,172 L326.3,172.3 L327.4,172.5 L328.2,172.9 L328.7,173.3 L328.6,173.8 L328.2,174.3 L327.4,174.9 L326.4,175.6 L325.2,176.3 L324.2,177 L323.3,177.6 L322.8,178.2 L322.7,178.7 L323.1,179.1 L323.9,179.4 L325,179.7 L326.2,180 L327.5,180.2 L328.7,180.5 L329.6,180.8 L330.1,181.2 L330.1,181.7 L329.7,182.2 L329,182.8 L327.9,183.5 L326.8,184.2 L325.7,184.9 L324.8,185.5 L324.3,186.1 L324.2,186.6 L324.5,187 L325.2,187.4 L326.2,187.7 L327.5,187.9 L328.8,188.2 L330,188.4 L330.9,188.8 L331.4,189.1 L331.6,189.6 L331.2,190.1 L330.5,190.8 L329.5,191.4 L328.4,192.1 L327.3,192.8 L326.4,193.4 L325.8,194 L325.6,194.5 L325.8,195 L326.5,195.3 L327.5,195.6 L328.7,195.9 L330,196.1 L331.2,196.4 L332.2,196.7 L332.8,197.1 L333,197.5 L332.7,198.1 L332.1,198.7 L331.1,199.3 L330,200" stroke-width="1.0"/>
<line x1="321.7" y1="172.6" x2="326.7" y2="200.6" stroke-width="0.8"/>
<line x1="328.3" y1="171.4" x2="333.3" y2="199.4" stroke-width="0.8"/>
<path d="M329,203 L335,202 L336,209 L330,210Z" fill="#fff" stroke-width="1.15"/>
<path d="M294,186 L292.9,186.6 L292,187.2 L291.3,187.7 L291,188.2 L291.2,188.7 L291.7,189.1 L292.6,189.5 L293.7,189.8 L294.9,190.1 L296.1,190.5 L297,190.9 L297.6,191.3 L297.8,191.7 L297.6,192.2 L297,192.8 L296.1,193.3 L295,193.9 L293.9,194.5 L292.9,195.1 L292.2,195.6 L291.9,196.1 L292,196.6 L292.5,197 L293.3,197.4 L294.4,197.8 L295.6,198.1 L296.8,198.4 L297.8,198.8 L298.4,199.2 L298.7,199.7 L298.5,200.1 L298,200.7 L297.1,201.2 L296,201.8 L294.9,202.4 L293.9,203 L293.2,203.6 L292.8,204.1 L292.8,204.5 L293.2,205 L294,205.3 L295.1,205.7 L296.3,206 L297.5,206.4 L298.5,206.8 L299.2,207.2 L299.5,207.6 L299.4,208.1 L298.9,208.6 L298.1,209.2 L297,209.7 L295.9,210.3 L294.9,210.9 L294.1,211.5 L293.7,212 L293.6,212.5 L294,212.9 L294.8,213.3 L295.8,213.7 L297,214" stroke-width="1.0"/>
<path d="M294,186 L295.2,186.3 L296.2,186.7 L297,187.1 L297.4,187.5 L297.3,188 L296.9,188.5 L296.1,189.1 L295.1,189.7 L294,190.3 L292.9,190.8 L292.1,191.4 L291.6,191.9 L291.5,192.4 L291.8,192.8 L292.5,193.2 L293.5,193.6 L294.7,194 L295.9,194.3 L297,194.7 L297.8,195 L298.2,195.5 L298.2,195.9 L297.8,196.4 L297.1,197 L296.1,197.6 L295,198.2 L293.9,198.8 L293,199.3 L292.5,199.9 L292.3,200.3 L292.6,200.8 L293.2,201.2 L294.2,201.6 L295.4,201.9 L296.6,202.2 L297.7,202.6 L298.5,203 L299,203.4 L299.1,203.9 L298.8,204.4 L298.1,204.9 L297.1,205.5 L296,206.1 L294.9,206.7 L294,207.2 L293.4,207.8 L293.2,208.3 L293.4,208.7 L294,209.1 L294.9,209.5 L296.1,209.9 L297.3,210.2 L298.4,210.5 L299.3,210.9 L299.8,211.3 L300,211.8 L299.7,212.3 L299,212.8 L298.1,213.4 L297,214" stroke-width="1.0"/>
<line x1="290.8" y1="186.3" x2="293.8" y2="214.3" stroke-width="0.8"/>
<line x1="297.2" y1="185.7" x2="300.2" y2="213.7" stroke-width="0.8"/>
<path d="M291,236 C297,245 305,249 313,248 C320,247 326,242 329,235 L334,252 L306,266 L297,262 Z" fill="#fff" stroke-width="1.26"/>
<path d="M294,232 C300,240 307,243 314,242.5 C320,242 325,238 328,232" fill="none" stroke-width="1.15"/>
<path d="M297,262 L300,255 M306,266 L305,258" fill="none" stroke-width="0.92"/>
<path d="M322.7,169 L361.8,186.8 L361.8,194 L356.4,195.7 L331,183Z" fill="#fff" stroke-width="1.38"/>
<line x1="331" y1="183" x2="356.4" y2="189" stroke-width="1.03"/>
<line x1="356.4" y1="189" x2="361.8" y2="186.8" stroke-width="1.03"/>
<line x1="356.4" y1="189" x2="356.4" y2="195.7" stroke-width="1.15"/>
<path d="M331,183 L333,196 L344,232 L349,233 L340,196 L345,192" fill="#fff" stroke-width="1.15"/>
<path d="M346,193 L354,194 L352,203 C343,208 340,220 344,232 L356,240 L350,246 C336,238 331,222 335,206 Z" fill="#fff" stroke-width="1.26"/>
<ellipse cx="341.8" cy="208" rx="1.6" ry="2" fill="none" stroke-width="1.03"/>
<path d="M274.6,219.2 L281,211.2 L307.4,224.5 L308.2,226.4 L307.4,231.2 L301,232.5Z" fill="#fff" stroke-width="1.38"/>
<line x1="281" y1="211.2" x2="274.6" y2="219.2" stroke-width="1.15"/>
<line x1="301.8" y1="224.8" x2="308.2" y2="226.4" stroke-width="1.03"/>
<line x1="301.8" y1="224.8" x2="301" y2="232.5" stroke-width="1.15"/>
<line x1="301.8" y1="224.8" x2="281" y2="213" stroke-width="0.80"/>
<path d="M274.6,219.2 L276,238" fill="none" stroke-width="1.03"/>
<path d="M274.6,238 L289,236.5 C290,248 295,259 303,266 C307,270 312,273 317,274 L318,281 L306.6,283 C296,277 287,267 281,256 Z" fill="#fff" stroke-width="1.38"/>
<path d="M289,236.5 L291,240" fill="none" stroke-width="0.92"/>
<ellipse cx="285.8" cy="251.2" rx="1.5" ry="1.9" fill="none" stroke-width="1.03" transform="rotate(20 285.8 251.2)"/>
<ellipse cx="284.5" cy="268.5" rx="1.5" ry="1.9" fill="none" stroke-width="1.03" transform="rotate(20 284.5 268.5)"/>
<ellipse cx="270.5" cy="224" rx="1.4" ry="1.8" fill="none" stroke-width="0.92" transform="rotate(20 270.5 224)"/>
<ellipse cx="268.5" cy="232" rx="1.4" ry="1.8" fill="none" stroke-width="0.92" transform="rotate(20 268.5 232)"/>
<path d="M296,262 L300,272 M302,264 L306,275 M308,266 L311,276" fill="none" stroke-width="0.92"/>
<path d="M328.5,274 L314,285 A4.5,7.5 142.8 0 0 323,297 L337.5,286 A4.5,7.5 142.8 0 0 328.5,274Z" fill="#fff"/>
<ellipse cx="318.5" cy="291" rx="4.5" ry="7.5" fill="none" transform="rotate(142.8 318.5 291)"/>
<ellipse cx="331" cy="281.5" rx="5.4" ry="9.5" fill="#fff" stroke-width="1.15" transform="rotate(37 331 281.5)"/>
<ellipse cx="333.5" cy="280" rx="5.4" ry="9.5" fill="none" stroke-width="1.03" transform="rotate(37 333.5 280)"/>
<path d="M340,238 L350,233 L346,303 L338,300 L336,276Z" fill="#fff" stroke-width="1.15"/>
<path d="M340,238 L377,213 L392,213.5 L401,216 L350,233Z" fill="#fff" stroke-width="1.15"/>
<path d="M350,233 L401,215.5 L405,219 L408.5,266 L403,273 L352,306 L346,303Z" fill="#fff" stroke-width="1.38"/>
<line x1="390" y1="213.5" x2="392" y2="220" stroke-width="0.92"/>
<ellipse cx="372.8" cy="259.5" rx="13" ry="20.5" fill="#fff" stroke-width="1.38" transform="rotate(22 372.8 259.5)"/>
<path d="M366,246 C372,252 374,262 370,275" fill="none" stroke-width="1.03"/>
<path d="M371,244 C378,251 380,262 376,273" fill="none" stroke-width="0.92"/>
<ellipse cx="399.9" cy="222.6" rx="1.3" ry="1.6" fill="none" stroke-width="1.03"/>
<ellipse cx="404.8" cy="259.7" rx="1.3" ry="1.6" fill="none" stroke-width="1.03"/>
<ellipse cx="349.5" cy="300.5" rx="1.3" ry="1.6" fill="none" stroke-width="1.03"/>
<ellipse cx="342.5" cy="263.6" rx="1.3" ry="1.6" fill="none" stroke-width="1.03"/>
<path d="M338,237 L351,232 L352,246 L344,250 L337,247Z" fill="#fff" stroke-width="1.15"/>
<path d="M358,277 L368,275.5 L369,299 L375,309 L377.5,316 L372,321 L365,318 L360,303Z" fill="#fff" stroke-width="1.26"/>
<path d="M360.7,268.5 L366.5,266 L370,270 L368,276 L362,278 L359.5,274Z" fill="#fff" stroke-width="1.15"/>
<line x1="364" y1="273.5" x2="370" y2="270" stroke-width="1.03"/>
<line x1="364" y1="273.5" x2="360.7" y2="268.5" stroke-width="1.03"/>
<line x1="364" y1="273.5" x2="363" y2="279" stroke-width="1.03"/>
<line x1="362" y1="279" x2="364" y2="305" stroke-width="0.80"/>
<ellipse cx="371.5" cy="316" rx="1.5" ry="1.9" fill="none" stroke-width="1.03"/>
<path d="M403.3,279.9 L405.5,282.5 L399.5,296 L398.5,308 L401,316 L411.5,323 L411,327 L395,334 L391.2,327 L387.6,302.6 L388.4,292.7Z" fill="#fff" stroke-width="1.26"/>
<path d="M401.5,283 L390.5,294 L390,304 L393,325" fill="none" stroke-width="0.92"/>
<ellipse cx="392.8" cy="296.5" rx="1.4" ry="1.8" fill="none" stroke-width="1.03"/>
<ellipse cx="395.5" cy="327.5" rx="1.4" ry="1.8" fill="none" stroke-width="1.03"/>
<path d="M371,156.9 L378.5,160.5 L386.6,166.2 L394.6,173.1 L399.8,183.5 L401.2,190 L400.6,198.5 L397,204.3 L393.5,211.2 L378.5,204.3 L375,199.7Z" fill="#fff" stroke-width="1.26"/>
<line x1="372.5" y1="159.5" x2="386" y2="168.5" stroke-width="0.92"/>
<line x1="372.5" y1="159.5" x2="376.5" y2="199" stroke-width="0.80"/>
<path d="M381,173.4 L387.6,169.7 L398.8,180 L401.6,192 L399.8,201.4 L395.1,208 L386,205 L380.5,194Z" fill="#fff" stroke-width="1.15"/>
<ellipse cx="390" cy="188.5" rx="8" ry="13" fill="#fff" stroke-width="1.26" transform="rotate(15 390 188.5)"/>
<ellipse cx="391.5" cy="189" rx="6" ry="10.8" fill="#fff" stroke-width="1.15" transform="rotate(15 391.5 189)"/>
<path d="M386.5,180 C384.5,188 386,197 390,201" fill="none" stroke-width="0.92"/>
<ellipse cx="379.6" cy="167.3" rx="1.7" ry="2.3" fill="none" stroke-width="1.15" transform="rotate(20 379.6 167.3)"/>
<ellipse cx="376.4" cy="172.2" rx="1.7" ry="2.3" fill="none" stroke-width="1.15" transform="rotate(20 376.4 172.2)"/>
<ellipse cx="378.5" cy="193.9" rx="1.7" ry="2.3" fill="none" stroke-width="1.15" transform="rotate(20 378.5 193.9)"/>
<ellipse cx="384.2" cy="204" rx="1.7" ry="2.3" fill="none" stroke-width="1.15" transform="rotate(20 384.2 204)"/>
<path d="M225.6,270.4 L242.3,279.2 L250.3,290.4 L254.3,306.4 L252.5,320 L247.1,324.7 L240,322 L228,308 L224,274.4Z" fill="#fff" stroke-width="1.26"/>
<line x1="226.5" y1="273" x2="242" y2="282" stroke-width="0.92"/>
<path d="M236,284 L245,289 L250,300 L250.5,314 L246,319 L238,315 L233,304 L233,291Z" fill="#fff" stroke-width="1.15"/>
<ellipse cx="241.5" cy="302" rx="5.8" ry="9" fill="#fff" stroke-width="1.26" transform="rotate(18 241.5 302)"/>
<ellipse cx="242.5" cy="302.5" rx="3.8" ry="6.6" fill="#fff" stroke-width="1.15" transform="rotate(18 242.5 302.5)"/>
<path d="M238,297 L245,306 M241,294 L240,309" fill="none" stroke-width="0.92"/>
<ellipse cx="234.3" cy="280.8" rx="1.4" ry="1.8" fill="none" stroke-width="1.03"/>
<path d="M228,285 C231,283 234,285 233,288 C232,290 229,289 228,287" fill="none" stroke-width="1.03"/>
<path d="M229,307 C232,305 236,307 235,310 C234,312 231,311 230,309" fill="none" stroke-width="1.03"/>
<path d="M409.2,237.8 L414.2,232.1 L421.3,234.9 L424.9,236.4 L427.7,246.3 L430.5,260.5 L433.4,270.5 L430.5,277.6 L424.9,281.1 L419.2,277.6 L421.3,267.6 L421.3,253.4 L417.8,242.5Z" fill="#fff" stroke-width="1.26"/>
<path d="M409.2,237.8 L414.2,232.1 L421.3,234.9 L417,240.6Z" fill="#fff" stroke-width="1.15"/>
<path d="M417,240.6 L418,244 M421.3,234.9 L424.9,236.4" fill="none" stroke-width="0.92"/>
<path d="M423.5,244 C426,252 427,262 430,273" fill="none" stroke-width="0.80"/>
<ellipse cx="422" cy="239.9" rx="1.6" ry="2" fill="none" stroke-width="1.03" transform="rotate(20 422 239.9)"/>
<ellipse cx="429.8" cy="271.9" rx="1.6" ry="2" fill="none" stroke-width="1.03" transform="rotate(20 429.8 271.9)"/>
<path d="M434.1,259.1 L446.9,248.4 L449.7,247.7 L453.3,250.6 L456.8,267.6 L461.1,284.7 L458.2,290.3 L446.9,301.7 L444,301.7 L449.7,286.1 L450.4,276.1 L448.3,267.6 L442.6,261.9 L436.9,260.3Z" fill="#fff" stroke-width="1.26"/>
<path d="M436,258.5 L448,250" fill="none" stroke-width="0.80"/>
<path d="M451.5,253 C454,262 456,275 458.5,288" fill="none" stroke-width="0.80"/>
<ellipse cx="449" cy="254.1" rx="1.6" ry="2" fill="none" stroke-width="1.03" transform="rotate(20 449 254.1)"/>
<ellipse cx="456.8" cy="286.1" rx="1.6" ry="2" fill="none" stroke-width="1.03" transform="rotate(20 456.8 286.1)"/>
<ellipse cx="312.3" cy="391.8" rx="44.6" ry="73.5" fill="#fff" stroke-width="1.26" transform="rotate(18.7 312.3 391.8)"/>
<ellipse cx="314.5" cy="392.6" rx="39.5" ry="67.5" fill="#fff" stroke-width="1.15" transform="rotate(14 314.5 392.6)"/>
<ellipse cx="323.7" cy="338.2" rx="2.9" ry="4.3" fill="#fff" stroke-width="1.15" transform="rotate(15 323.7 338.2)"/>
<ellipse cx="333.3" cy="335.8" rx="2.9" ry="4.3" fill="#fff" stroke-width="1.15" transform="rotate(15 333.3 335.8)"/>
<ellipse cx="342.9" cy="337.4" rx="2.9" ry="4.3" fill="#fff" stroke-width="1.15" transform="rotate(15 342.9 337.4)"/>
<ellipse cx="303" cy="355.8" rx="2.9" ry="4.3" fill="#fff" stroke-width="1.15" transform="rotate(15 303 355.8)"/>
<ellipse cx="293.4" cy="370.1" rx="2.9" ry="4.3" fill="#fff" stroke-width="1.15" transform="rotate(15 293.4 370.1)"/>
<ellipse cx="286.2" cy="386.1" rx="2.9" ry="4.3" fill="#fff" stroke-width="1.15" transform="rotate(15 286.2 386.1)"/>
<ellipse cx="294.2" cy="453" rx="2.9" ry="4.3" fill="#fff" stroke-width="1.15" transform="rotate(15 294.2 453)"/>
<ellipse cx="303.3" cy="453.7" rx="2.9" ry="4.3" fill="#fff" stroke-width="1.15" transform="rotate(15 303.3 453.7)"/>
<ellipse cx="312.4" cy="452.2" rx="2.9" ry="4.3" fill="#fff" stroke-width="1.15" transform="rotate(15 312.4 452.2)"/>
<ellipse cx="313.3" cy="344.6" rx="3.8" ry="4.8" fill="#fff" stroke-width="1.26" transform="rotate(15 313.3 344.6)"/>
<ellipse cx="313.8" cy="345" rx="2.4" ry="3.2" fill="none" stroke-width="1.15" transform="rotate(15 313.8 345)"/>
<ellipse cx="325" cy="400" rx="31" ry="52" fill="#fff" stroke-width="1.26" transform="rotate(14 325 400)"/>
<ellipse cx="326" cy="401" rx="29" ry="49.5" fill="none" stroke-width="0.69" transform="rotate(14 326 401)"/>
<path d="M296,380 C300,362 314,352 330,350" fill="none" stroke-width="0.92"/>
<path d="M289,408 L290,432 L300,443" fill="none" stroke-width="0.92"/>
<path d="M293,398 L295,425" fill="none" stroke-width="0.80"/>
<path d="M297,396 L299,428" fill="none" stroke-width="0.80"/>
<line x1="339.7" y1="351" x2="343.3" y2="429" stroke-width="1.03"/>
<line x1="336.5" y1="352" x2="340" y2="430" stroke-width="0.80"/>
<path d="M311,411 C318,404 330,402 344,404" fill="none" stroke-width="0.92"/>
<path d="M313,423 C321,416 333,414 346,416" fill="none" stroke-width="0.92"/>
<path d="M316,434 C324,428 334,426 346,428" fill="none" stroke-width="0.80"/>
<path d="M303,366 C309,360 318,356 330,354" fill="none" stroke-width="0.92"/>
<path d="M314,368 L332,360 L340,363 L341,377 L323,386 L314,382Z" fill="#fff" stroke-width="1.15"/>
<path d="M314,368 L322,372 L340,363 M322,372 L323,386" fill="none" stroke-width="1.03"/>
<path d="M316,374 L321,376 L321,384 L316,382Z" fill="#fff" stroke-width="0.92"/>
<path d="M316,404 C322,398 332,396 342,398" fill="none" stroke-width="0.92"/>
<path d="M318,430 C326,424 336,420 346,420" fill="none" stroke-width="0.92"/>
<path d="M336,400 L338,430 M341,399 L343,428" fill="none" stroke-width="0.80"/>
<path d="M338,349 L367,355.5 L373.5,360 L370,368 L362,367.5 C352,368 348,378 349.5,388 C351,396 358,402 368,403.5 L377,406 L377.5,412.5 L371,414.5 C357,412 344,403 340,390 L338,372 Z" fill="#fff" stroke-width="1.38"/>
<path d="M362,367.5 L367,355.5 M368,403.5 L371,414.5" fill="none" stroke-width="1.15"/>
<path d="M343,351 L342,388" fill="none" stroke-width="0.92"/>
<path d="M303,388 L325,392 L328,396 L325,402 L318,401.5 C313,406 313,416 315,424 C318,433 324,439 331,443 L335,446 L334,452.5 L327,455 C312,450 301,438 298,423 C296,409 297,396 303,388 Z" fill="#fff" stroke-width="1.38"/>
<path d="M318,401.5 L325,392 M331,443 L327,455" fill="none" stroke-width="1.15"/>
<ellipse cx="307.5" cy="398.5" rx="1.3" ry="1.7" fill="#222" stroke-width="0.57" transform="rotate(20 307.5 398.5)"/>
<path d="M300,386 L318,389 L324,393 L320,399 L303,396Z" fill="#fff" stroke-width="1.15"/>
<path d="M478.8,274.4 488.3,280.5 489.7,278.3 480.2,272.2Z" fill="#fff" stroke-width="1.03"/>
<path d="M478.4,274.4 482.8,277.2 484.4,274.7 480.1,271.9Z" fill="#2a2a2a" stroke-width="0.80"/>
<ellipse cx="490.3" cy="280.2" rx="1.9" ry="2.9" fill="#2a2a2a" stroke-width="0.92" transform="rotate(32.6 490.3 280.2)"/>
<ellipse cx="489.5" cy="279.7" rx="1.3" ry="2.7" fill="#444" stroke-width="0.69" transform="rotate(32.6 489.5 279.7)"/>
<path d="M462.2,301.7 470.6,307.1 472,304.9 463.6,299.5Z" fill="#fff" stroke-width="1.03"/>
<path d="M461.8,301.7 465.8,304.2 467.4,301.7 463.5,299.2Z" fill="#2a2a2a" stroke-width="0.80"/>
<ellipse cx="472.6" cy="306.8" rx="1.9" ry="2.9" fill="#2a2a2a" stroke-width="0.92" transform="rotate(32.6 472.6 306.8)"/>
<ellipse cx="471.8" cy="306.3" rx="1.3" ry="2.7" fill="#444" stroke-width="0.69" transform="rotate(32.6 471.8 306.3)"/>
<path d="M430.6,311 439.1,315.9 440.3,313.6 431.8,308.8Z" fill="#fff" stroke-width="1.03"/>
<path d="M430.2,311.1 434.2,313.3 435.7,310.7 431.7,308.4Z" fill="#2a2a2a" stroke-width="0.80"/>
<ellipse cx="441" cy="315.5" rx="1.9" ry="2.9" fill="#2a2a2a" stroke-width="0.92" transform="rotate(29.7 441 315.5)"/>
<ellipse cx="440.1" cy="315" rx="1.3" ry="2.7" fill="#444" stroke-width="0.69" transform="rotate(29.7 440.1 315)"/>
<path d="M433.6,347.6 442,353 443.4,350.8 435,345.4Z" fill="#fff" stroke-width="1.03"/>
<path d="M433.2,347.6 437.2,350.1 438.8,347.6 434.9,345.1Z" fill="#2a2a2a" stroke-width="0.80"/>
<ellipse cx="444" cy="352.7" rx="1.9" ry="2.9" fill="#2a2a2a" stroke-width="0.92" transform="rotate(32.6 444 352.7)"/>
<ellipse cx="443.2" cy="352.2" rx="1.3" ry="2.7" fill="#444" stroke-width="0.69" transform="rotate(32.6 443.2 352.2)"/>
<path d="M413.3,141.3 400.6,149.4 403.4,153.8 416.1,145.7Z" fill="#262626" stroke-width="1.03"/>
<ellipse cx="402" cy="151.6" rx="1.2" ry="2.6" fill="#555" stroke-width="0.80" transform="rotate(147.5 402 151.6)"/>
<ellipse cx="415.1" cy="143.3" rx="2.6" ry="4.3" fill="#fff" stroke-width="1.15" transform="rotate(147.5 415.1 143.3)"/>
<ellipse cx="416.2" cy="142.6" rx="2.4" ry="4" fill="#fff" stroke-width="1.15" transform="rotate(147.5 416.2 142.6)"/>
<ellipse cx="416.5" cy="142.4" rx="1.2" ry="2" fill="none" stroke-width="0.80" transform="rotate(147.5 416.5 142.4)"/>
<path d="M417.2,162.2 404.7,170.6 407.7,175 420.1,166.5Z" fill="#262626" stroke-width="1.03"/>
<ellipse cx="406.2" cy="172.8" rx="1.2" ry="2.6" fill="#555" stroke-width="0.80" transform="rotate(145.9 406.2 172.8)"/>
<ellipse cx="419.1" cy="164.1" rx="2.6" ry="4.3" fill="#fff" stroke-width="1.15" transform="rotate(145.9 419.1 164.1)"/>
<ellipse cx="420.2" cy="163.4" rx="2.4" ry="4" fill="#fff" stroke-width="1.15" transform="rotate(145.9 420.2 163.4)"/>
<ellipse cx="420.5" cy="163.1" rx="1.2" ry="2" fill="none" stroke-width="0.80" transform="rotate(145.9 420.5 163.1)"/>
<path d="M198.7,312.2 211.4,304.2 208.6,299.8 196,307.8Z" fill="#262626" stroke-width="1.03"/>
<ellipse cx="210" cy="302" rx="1.2" ry="2.6" fill="#555" stroke-width="0.80" transform="rotate(-32.2 210 302)"/>
<ellipse cx="196.9" cy="310.2" rx="2.6" ry="4.3" fill="#fff" stroke-width="1.15" transform="rotate(-32.2 196.9 310.2)"/>
<ellipse cx="195.8" cy="310.9" rx="2.4" ry="4" fill="#fff" stroke-width="1.15" transform="rotate(-32.2 195.8 310.9)"/>
<ellipse cx="195.5" cy="311.1" rx="1.2" ry="2" fill="none" stroke-width="0.80" transform="rotate(-32.2 195.5 311.1)"/>
<path d="M197.3,338.4 209.4,330.6 206.6,326.2 194.4,334.1Z" fill="#262626" stroke-width="1.03"/>
<ellipse cx="208" cy="328.4" rx="1.2" ry="2.6" fill="#555" stroke-width="0.80" transform="rotate(-32.9 208 328.4)"/>
<ellipse cx="195.4" cy="336.5" rx="2.6" ry="4.3" fill="#fff" stroke-width="1.15" transform="rotate(-32.9 195.4 336.5)"/>
<ellipse cx="194.3" cy="337.2" rx="2.4" ry="4" fill="#fff" stroke-width="1.15" transform="rotate(-32.9 194.3 337.2)"/>
<ellipse cx="194" cy="337.5" rx="1.2" ry="2" fill="none" stroke-width="0.80" transform="rotate(-32.9 194 337.5)"/>
<ellipse cx="574.5" cy="390.5" rx="26.9" ry="43.2" fill="#fff" stroke-width="1.26" transform="rotate(33.5 574.5 390.5)"/>
<ellipse cx="577" cy="389.2" rx="26.9" ry="43.2" fill="#fff" stroke-width="1.26" transform="rotate(33.5 577 389.2)"/>
<ellipse cx="577.4" cy="389.3" rx="25.6" ry="41.5" fill="none" stroke-width="0.69" transform="rotate(33.5 577.4 389.3)"/>
<ellipse cx="585.6" cy="361.9" rx="4.5" ry="6.6" fill="#fff" stroke-width="1.26" transform="rotate(33.5 585.6 361.9)"/>
<ellipse cx="586.4" cy="362.2" rx="3.3" ry="5.2" fill="none" stroke-width="0.69" transform="rotate(33.5 586.4 362.2)"/>
<ellipse cx="598.3" cy="366.2" rx="4.5" ry="6.6" fill="#fff" stroke-width="1.26" transform="rotate(33.5 598.3 366.2)"/>
<ellipse cx="599.1" cy="366.5" rx="3.3" ry="5.2" fill="none" stroke-width="0.69" transform="rotate(33.5 599.1 366.5)"/>
<ellipse cx="600" cy="381.4" rx="4.5" ry="6.6" fill="#fff" stroke-width="1.26" transform="rotate(33.5 600 381.4)"/>
<ellipse cx="600.8" cy="381.7" rx="3.3" ry="5.2" fill="none" stroke-width="0.69" transform="rotate(33.5 600.8 381.7)"/>
<ellipse cx="592.4" cy="400.8" rx="4.5" ry="6.6" fill="#fff" stroke-width="1.26" transform="rotate(33.5 592.4 400.8)"/>
<ellipse cx="593.2" cy="401.1" rx="3.3" ry="5.2" fill="none" stroke-width="0.69" transform="rotate(33.5 593.2 401.1)"/>
<ellipse cx="576.4" cy="414.3" rx="4.5" ry="6.6" fill="#fff" stroke-width="1.26" transform="rotate(33.5 576.4 414.3)"/>
<ellipse cx="577.2" cy="414.6" rx="3.3" ry="5.2" fill="none" stroke-width="0.69" transform="rotate(33.5 577.2 414.6)"/>
<ellipse cx="562" cy="417.6" rx="4.5" ry="6.6" fill="#fff" stroke-width="1.26" transform="rotate(33.5 562 417.6)"/>
<ellipse cx="562.8" cy="417.9" rx="3.3" ry="5.2" fill="none" stroke-width="0.69" transform="rotate(33.5 562.8 417.9)"/>
<ellipse cx="553.6" cy="406.7" rx="4.5" ry="6.6" fill="#fff" stroke-width="1.26" transform="rotate(33.5 553.6 406.7)"/>
<ellipse cx="554.4" cy="407" rx="3.3" ry="5.2" fill="none" stroke-width="0.69" transform="rotate(33.5 554.4 407)"/>
<ellipse cx="557.8" cy="388.1" rx="4.5" ry="6.6" fill="#fff" stroke-width="1.26" transform="rotate(33.5 557.8 388.1)"/>
<ellipse cx="558.6" cy="388.4" rx="3.3" ry="5.2" fill="none" stroke-width="0.69" transform="rotate(33.5 558.6 388.4)"/>
<ellipse cx="570.4" cy="370.4" rx="4.5" ry="6.6" fill="#fff" stroke-width="1.26" transform="rotate(33.5 570.4 370.4)"/>
<ellipse cx="571.2" cy="370.7" rx="3.3" ry="5.2" fill="none" stroke-width="0.69" transform="rotate(33.5 571.2 370.7)"/>
<ellipse cx="577.5" cy="389.6" rx="11.5" ry="19" fill="#fff" stroke-width="1.26" transform="rotate(33.5 577.5 389.6)"/>
<ellipse cx="578.3" cy="389.8" rx="10" ry="17.2" fill="none" stroke-width="0.80" transform="rotate(33.5 578.3 389.8)"/>
<ellipse cx="628" cy="420.6" rx="27.8" ry="41.5" fill="#fff" transform="rotate(28.7 628 420.6)"/>
<path d="M606.8,456.3 640.7,478.4 683.1,407 649.2,384.9Z" fill="#fff" stroke="none"/>
<line x1="606.8" y1="456.3" x2="640.7" y2="478.4"/>
<line x1="649.2" y1="384.9" x2="683.1" y2="407"/>
<ellipse cx="661.9" cy="442.7" rx="27.8" ry="41.5" fill="#fff" stroke-width="1.38" transform="rotate(28.7 661.9 442.7)"/>
<ellipse cx="662.7" cy="443" rx="26.4" ry="39.8" fill="none" stroke-width="1.03" transform="rotate(28.7 662.7 443)"/>
<ellipse cx="663.1" cy="443.2" rx="25" ry="38.2" fill="none" stroke-width="0.57" transform="rotate(28.7 663.1 443.2)"/>
<ellipse cx="678.8" cy="426.2" rx="3.3" ry="4.4" fill="#fff" stroke-width="1.38" transform="rotate(49.9 678.8 426.2)"/>
<ellipse cx="681" cy="440.2" rx="3.3" ry="4.4" fill="#fff" stroke-width="1.38" transform="rotate(89.9 681 440.2)"/>
<ellipse cx="674.4" cy="455.8" rx="3.3" ry="4.4" fill="#fff" stroke-width="1.38" transform="rotate(129.9 674.4 455.8)"/>
<ellipse cx="662.2" cy="465.7" rx="3.3" ry="4.4" fill="#fff" stroke-width="1.38" transform="rotate(169.9 662.2 465.7)"/>
<ellipse cx="650.1" cy="465.4" rx="3.3" ry="4.4" fill="#fff" stroke-width="1.38" transform="rotate(209.9 650.1 465.4)"/>
<ellipse cx="643.8" cy="454.8" rx="3.3" ry="4.4" fill="#fff" stroke-width="1.38" transform="rotate(249.9 643.8 454.8)"/>
<ellipse cx="646.1" cy="439.1" rx="3.3" ry="4.4" fill="#fff" stroke-width="1.38" transform="rotate(289.9 646.1 439.1)"/>
<ellipse cx="656.1" cy="425.5" rx="3.3" ry="4.4" fill="#fff" stroke-width="1.38" transform="rotate(329.9 656.1 425.5)"/>
<ellipse cx="669" cy="420.4" rx="3.3" ry="4.4" fill="#fff" stroke-width="1.38" transform="rotate(369.9 669 420.4)"/>
<ellipse cx="661.4" cy="444.7" rx="11.1" ry="14.9" fill="#fff" stroke-width="1.38" transform="rotate(28.7 661.4 444.7)"/>
<ellipse cx="662.1" cy="444.7" rx="9.5" ry="12.9" fill="none" stroke-width="1.15" transform="rotate(28.7 662.1 444.7)"/>
<path d="M654.9,451.7 A8.3,11.6 28.7 0 1 664.9,434.7" fill="none" stroke-width="0.92"/>
<ellipse cx="689.7" cy="460" rx="10.8" ry="15.8" fill="none" stroke-width="1.15" transform="rotate(30 689.7 460)"/>
<ellipse cx="690.3" cy="460.3" rx="9.2" ry="14.2" fill="none" stroke-width="1.03" transform="rotate(30 690.3 460.3)"/>
<ellipse cx="696" cy="465.5" rx="7.6" ry="16.3" fill="#fff" stroke-width="1.09" transform="rotate(27 696 465.5)"/>
<ellipse cx="697" cy="466" rx="5.9" ry="13.9" fill="none" stroke-width="0.86" transform="rotate(27 697 466)"/>
<ellipse cx="699.9" cy="467.5" rx="7.6" ry="16.3" fill="#fff" stroke-width="1.09" transform="rotate(27 699.9 467.5)"/>
<ellipse cx="700.9" cy="468" rx="5.9" ry="13.9" fill="none" stroke-width="0.86" transform="rotate(27 700.9 468)"/>
<ellipse cx="703.7" cy="469.5" rx="7.6" ry="16.3" fill="#fff" stroke-width="1.09" transform="rotate(27 703.7 469.5)"/>
<ellipse cx="704.7" cy="470" rx="5.9" ry="13.9" fill="none" stroke-width="0.86" transform="rotate(27 704.7 470)"/>
<ellipse cx="707.6" cy="471.5" rx="7.6" ry="16.3" fill="#fff" stroke-width="1.09" transform="rotate(27 707.6 471.5)"/>
<ellipse cx="708.6" cy="472" rx="5.9" ry="13.9" fill="none" stroke-width="0.86" transform="rotate(27 708.6 472)"/>
<ellipse cx="711.4" cy="473.5" rx="7.6" ry="16.3" fill="#fff" stroke-width="1.09" transform="rotate(27 711.4 473.5)"/>
<ellipse cx="712.4" cy="474" rx="5.9" ry="13.9" fill="none" stroke-width="0.86" transform="rotate(27 712.4 474)"/>
<ellipse cx="715.3" cy="475.5" rx="7.6" ry="16.3" fill="#fff" stroke-width="1.09" transform="rotate(27 715.3 475.5)"/>
<ellipse cx="716.3" cy="476" rx="5.9" ry="13.9" fill="none" stroke-width="0.86" transform="rotate(27 716.3 476)"/>
<ellipse cx="719.1" cy="477.5" rx="7.6" ry="16.3" fill="#fff" stroke-width="1.09" transform="rotate(27 719.1 477.5)"/>
<ellipse cx="720.1" cy="478" rx="5.9" ry="13.9" fill="none" stroke-width="0.86" transform="rotate(27 720.1 478)"/>
<ellipse cx="723" cy="479.5" rx="7.6" ry="16.3" fill="#fff" stroke-width="1.09" transform="rotate(27 723 479.5)"/>
<ellipse cx="724" cy="480" rx="5.9" ry="13.9" fill="none" stroke-width="0.86" transform="rotate(27 724 480)"/>
<ellipse cx="724.2" cy="480.1" rx="4.4" ry="11.5" fill="none" stroke-width="1.03" transform="rotate(27 724.2 480.1)"/>
<ellipse cx="725" cy="480.5" rx="3.4" ry="10" fill="none" stroke-width="0.80" transform="rotate(27 725 480.5)"/>
<ellipse cx="731" cy="486.5" rx="10.5" ry="15" fill="none" stroke-width="1.15" transform="rotate(30 731 486.5)"/>
<ellipse cx="731.6" cy="486.8" rx="8.9" ry="13.4" fill="none" stroke-width="1.03" transform="rotate(30 731.6 486.8)"/>
<path d="M735.7,496.7 L735.8,495.5 L736.1,494.2 L736.5,493 L736.9,491.7 L737.4,490.5 L738,489.3 L738.7,488.1 L739.4,487 L740.2,485.9 L741.1,484.9 L742,484 L742.9,483.1 L743.9,482.4 L744.8,481.7 L745.9,481.1 L746.9,480.6 L747.9,480.2 L748.9,480 L749.9,479.8 L750.9,479.7 L751.9,479.8 L752.8,480 L753.7,480.2 L754.5,480.6 L755.3,481.1 L756,481.7 L756.7,482.3 L757.3,483.1 L757.8,484 L758.2,484.9 L758.5,485.9 L758.8,487 L759,488.1 L759,489.2 L759,490.4 L758.9,491.7 L758.8,492.9 L758.5,494.2 L758.1,495.4 L757.7,496.7 L757.2,497.9 L756.6,499.1 L755.9,500.3 L755.2,501.4 L754.4,502.5 L753.5,503.5 L752.6,504.4 L751.7,505.3 L750.7,506 L749.8,506.7 L748.7,507.3 L747.7,507.8 L746.7,508.2 L745.7,508.4 L744.7,508.6 L743.7,508.7 L742.7,508.6 L741.8,508.4 L740.9,508.2 L741.8,506.2 L742.6,506.5 L743.4,506.6 L744.2,506.6 L745,506.6 L745.9,506.4 L746.8,506.2 L747.7,505.9 L748.5,505.5 L749.4,505 L750.3,504.4 L751.1,503.7 L751.9,503 L752.7,502.2 L753.4,501.3 L754.1,500.4 L754.7,499.4 L755.3,498.4 L755.8,497.4 L756.2,496.3 L756.6,495.3 L756.9,494.2 L757.2,493.1 L757.3,492 L757.4,491 L757.4,489.9 L757.3,488.9 L757.2,488 L757,487.1 L756.7,486.2 L756.3,485.4 L755.9,484.7 L755.4,484 L754.8,483.4 L754.2,482.9 L753.5,482.5 L752.8,482.2 L752,481.9 L751.2,481.8 L750.4,481.8 L749.6,481.8 L748.7,482 L747.8,482.2 L746.9,482.5 L746.1,482.9 L745.2,483.4 L744.3,484 L743.5,484.7 L742.7,485.4 L741.9,486.2 L741.2,487.1 L740.5,488 L739.9,489 L739.3,490 L738.8,491 L738.4,492.1 L738,493.1 L737.7,494.2 L737.4,495.3 L737.3,496.4Z" fill="#fff" stroke-width="1.15"/>
<ellipse cx="736.5" cy="496.6" rx="1.7" ry="1.7" fill="#fff" stroke-width="1.03"/>
<ellipse cx="777" cy="518.1" rx="26" ry="41.7" fill="#fff" stroke-width="1.26" transform="rotate(31.6 777 518.1)"/>
<ellipse cx="779" cy="516.9" rx="26" ry="41.7" fill="#fff" stroke-width="1.38" transform="rotate(31.6 779 516.9)"/>
<ellipse cx="779.3" cy="517.1" rx="24.2" ry="39.2" fill="none" stroke-width="0.92" transform="rotate(31.6 779.3 517.1)"/>
<ellipse cx="779.6" cy="517.2" rx="22.4" ry="36.7" fill="none" stroke-width="1.15" transform="rotate(31.6 779.6 517.2)"/>
<ellipse cx="779.8" cy="517.3" rx="21.1" ry="35" fill="none" stroke-width="0.80" transform="rotate(31.6 779.8 517.3)"/>
<ellipse cx="792.6" cy="538.1" rx="1" ry="1.4" fill="#333" stroke-width="0.57" transform="rotate(48.8 792.6 538.1)"/>
<ellipse cx="775.6" cy="549.9" rx="1" ry="1.4" fill="#333" stroke-width="0.57" transform="rotate(84.8 775.6 549.9)"/>
<ellipse cx="760.1" cy="549.1" rx="1" ry="1.4" fill="#333" stroke-width="0.57" transform="rotate(120.8 760.1 549.1)"/>
<ellipse cx="752" cy="536.1" rx="1" ry="1.4" fill="#333" stroke-width="0.57" transform="rotate(156.8 752 536.1)"/>
<ellipse cx="754.3" cy="515.8" rx="1" ry="1.4" fill="#333" stroke-width="0.57" transform="rotate(192.8 754.3 515.8)"/>
<ellipse cx="766.2" cy="496.1" rx="1" ry="1.4" fill="#333" stroke-width="0.57" transform="rotate(228.8 766.2 496.1)"/>
<ellipse cx="783.2" cy="484.3" rx="1" ry="1.4" fill="#333" stroke-width="0.57" transform="rotate(264.8 783.2 484.3)"/>
<ellipse cx="798.7" cy="485.1" rx="1" ry="1.4" fill="#333" stroke-width="0.57" transform="rotate(300.8 798.7 485.1)"/>
<ellipse cx="806.8" cy="498.1" rx="1" ry="1.4" fill="#333" stroke-width="0.57" transform="rotate(336.8 806.8 498.1)"/>
<ellipse cx="804.5" cy="518.4" rx="1" ry="1.4" fill="#333" stroke-width="0.57" transform="rotate(372.8 804.5 518.4)"/>
<ellipse cx="780" cy="517.4" rx="17.7" ry="29.2" fill="none" stroke-width="1.03" transform="rotate(31.6 780 517.4)"/>
<ellipse cx="780.5" cy="516.9" rx="9.4" ry="14.2" fill="#fff" stroke-width="1.26" transform="rotate(31.6 780.5 516.9)"/>
<ellipse cx="781.2" cy="517.2" rx="7.5" ry="11.7" fill="none" stroke-width="0.92" transform="rotate(31.6 781.2 517.2)"/>
<path d="M788.1,502 L789.1,502.3 L790,502.9 L790.8,503.5 L791.5,504.3 L792.2,505.3 L792.7,506.3 L793,507.5 L793.3,508.8 L793.4,510.1 L793.4,511.5 L793.3,513 L793,514.5 L792.7,516.1 L792.2,517.6 L791.5,519.1 L790.8,520.7 L790,522.1 L789.1,523.6 L788.1,524.9 L787,526.2 L785.8,527.4 L784.6,528.4 L783.4,529.4 L782.2,530.2 L780.9,530.9 L779.6,531.4 L778.4,531.8 L777.2,532 L776,532.1 L774.9,532" fill="none" stroke-width="0.92"/>
<path d="M789,500.1 L790.1,500.5 L791.1,501.1 L792,501.9 L792.9,502.8 L793.6,503.8 L794.1,505 L794.6,506.3 L794.8,507.7 L795,509.3 L795,510.9 L794.8,512.5 L794.5,514.2 L794.1,516 L793.6,517.7 L792.9,519.4 L792,521.1 L791.1,522.8 L790.1,524.4 L788.9,525.9 L787.7,527.4 L786.4,528.7 L785.1,529.9 L783.7,530.9 L782.3,531.9 L780.9,532.6 L779.5,533.2 L778.1,533.7 L776.7,533.9 L775.4,534 L774.1,533.9" fill="none" stroke-width="0.92"/>
<path d="M789.8,498.2 L791.1,498.7 L792.2,499.3 L793.3,500.2 L794.2,501.2 L795,502.4 L795.6,503.7 L796.1,505.1 L796.4,506.7 L796.5,508.4 L796.5,510.2 L796.4,512 L796.1,513.9 L795.6,515.8 L794.9,517.8 L794.2,519.7 L793.3,521.6 L792.2,523.5 L791.1,525.2 L789.8,526.9 L788.5,528.5 L787,530 L785.6,531.3 L784,532.5 L782.5,533.5 L780.9,534.4 L779.3,535.1 L777.7,535.5 L776.2,535.8 L774.7,535.9 L773.3,535.8" fill="none" stroke-width="0.92"/>
<path d="M790.7,496.4 L792.1,496.9 L793.4,497.6 L794.5,498.5 L795.5,499.6 L796.4,500.9 L797,502.4 L797.6,504 L797.9,505.7 L798.1,507.6 L798.1,509.5 L797.9,511.5 L797.6,513.6 L797,515.7 L796.3,517.9 L795.5,520 L794.5,522.1 L793.4,524.1 L792.1,526.1 L790.7,527.9 L789.2,529.7 L787.7,531.3 L786,532.8 L784.3,534.1 L782.6,535.2 L780.9,536.1 L779.1,536.9 L777.4,537.4 L775.7,537.7 L774.1,537.8 L772.5,537.7" fill="none" stroke-width="0.92"/>
<path d="M783.2,490.8 L784.8,503.6 M785.6,490.5 L787,502.5" fill="none" stroke-width="1.03"/>
<ellipse cx="769.6" cy="508.4" rx="2.8" ry="3.6" fill="#fff" stroke-width="1.15" transform="rotate(31.6 769.6 508.4)"/>
<ellipse cx="765.6" cy="516.4" rx="2.8" ry="3.6" fill="#fff" stroke-width="1.15" transform="rotate(31.6 765.6 516.4)"/>
<ellipse cx="762.4" cy="529.2" rx="2.8" ry="3.6" fill="#fff" stroke-width="1.15" transform="rotate(31.6 762.4 529.2)"/>
<ellipse cx="770.4" cy="537.2" rx="2.8" ry="3.6" fill="#fff" stroke-width="1.15" transform="rotate(31.6 770.4 537.2)"/>
<ellipse cx="791.2" cy="526" rx="1.6" ry="2.2" fill="none" stroke-width="1.03" transform="rotate(31.6 791.2 526)"/>
<g transform="translate(547.7,335.7) rotate(37.8)"><path d="M-42,-10.5 L-38.5,-10.5 A7.6,10.5 0 0 1 -38.5,10.5 L-42,10.5 Z" fill="#fff"/><ellipse cx="-42" cy="0" rx="7.6" ry="10.5" fill="#fff" stroke-width="1.1"/><ellipse cx="-41.6" cy="0" rx="6.2" ry="8.6" fill="none" stroke-width="0.7"/><path d="M-38.5,-6.5 L-34,-6.5 L-34,6.5 L-38.5,6.5 Z" fill="#fff" stroke="none"/><path d="M-38.5,-6.5 L-34,-6.5 M-38.5,6.5 L-34,6.5" /><path d="M-35,-9 L-33,-9 A6.5,9 0 0 1 -33,9 L-35,9 Z" fill="#fff"/><ellipse cx="-35" cy="0" rx="6.5" ry="9" fill="#fff" stroke-width="1.0"/><path d="M-33,-8.0 L0,-8.0 L0,8.0 L-33,8.0 A5.76,8.0 0 0 1 -33,-8.0Z" fill="#fff"/><path d="M-3.4,-8.0 A5.8,8.0 0 0 1 -3.4,8.0" stroke-width="1.8"/><path d="M-6.5,-8.0 A5.8,8.0 0 0 1 -6.5,8.0" stroke-width="1.8"/><path d="M-9.7,-8.0 A5.8,8.0 0 0 1 -9.7,8.0" stroke-width="1.8"/><path d="M-12.8,-8.0 A5.8,8.0 0 0 1 -12.8,8.0" stroke-width="1.8"/><path d="M-16,-8.0 A5.8,8.0 0 0 1 -16,8.0" stroke-width="1.8"/><path d="M-19.1,-8.0 A5.8,8.0 0 0 1 -19.1,8.0" stroke-width="1.8"/><path d="M-22.3,-8.0 A5.8,8.0 0 0 1 -22.3,8.0" stroke-width="1.8"/><ellipse cx="0" cy="0" rx="5.8" ry="8" fill="#fff" stroke-width="1.1"/><ellipse cx="0.3" cy="0" rx="3.6" ry="5" fill="#fff" stroke-width="1.6"/><path d="M-1.5,-4 A2.9,4 0 0 0 -1.5,4" stroke-width="0.7"/></g>
<g transform="translate(550.3,351.2) rotate(34)"><path d="M-33,-8.0 L0,-8.0 L0,8.0 L-33,8.0 A5.76,8.0 0 0 1 -33,-8.0Z" fill="#fff"/><path d="M-3.4,-8.0 A5.8,8.0 0 0 1 -3.4,8.0" stroke-width="1.8"/><path d="M-6.5,-8.0 A5.8,8.0 0 0 1 -6.5,8.0" stroke-width="1.8"/><path d="M-9.7,-8.0 A5.8,8.0 0 0 1 -9.7,8.0" stroke-width="1.8"/><path d="M-12.8,-8.0 A5.8,8.0 0 0 1 -12.8,8.0" stroke-width="1.8"/><path d="M-16,-8.0 A5.8,8.0 0 0 1 -16,8.0" stroke-width="1.8"/><path d="M-19.1,-8.0 A5.8,8.0 0 0 1 -19.1,8.0" stroke-width="1.8"/><path d="M-22.3,-8.0 A5.8,8.0 0 0 1 -22.3,8.0" stroke-width="1.8"/><ellipse cx="0" cy="0" rx="5.8" ry="8" fill="#fff" stroke-width="1.1"/><ellipse cx="0.3" cy="0" rx="3.6" ry="5" fill="#fff" stroke-width="1.6"/><path d="M-1.5,-4 A2.9,4 0 0 0 -1.5,4" stroke-width="0.7"/></g>
<g transform="translate(542.5,369) rotate(34)"><path d="M-33,-8.0 L0,-8.0 L0,8.0 L-33,8.0 A5.76,8.0 0 0 1 -33,-8.0Z" fill="#fff"/><path d="M-3.4,-8.0 A5.8,8.0 0 0 1 -3.4,8.0" stroke-width="1.8"/><path d="M-6.5,-8.0 A5.8,8.0 0 0 1 -6.5,8.0" stroke-width="1.8"/><path d="M-9.7,-8.0 A5.8,8.0 0 0 1 -9.7,8.0" stroke-width="1.8"/><path d="M-12.8,-8.0 A5.8,8.0 0 0 1 -12.8,8.0" stroke-width="1.8"/><path d="M-16,-8.0 A5.8,8.0 0 0 1 -16,8.0" stroke-width="1.8"/><path d="M-19.1,-8.0 A5.8,8.0 0 0 1 -19.1,8.0" stroke-width="1.8"/><path d="M-22.3,-8.0 A5.8,8.0 0 0 1 -22.3,8.0" stroke-width="1.8"/><ellipse cx="0" cy="0" rx="5.8" ry="8" fill="#fff" stroke-width="1.1"/><ellipse cx="0.3" cy="0" rx="3.6" ry="5" fill="#fff" stroke-width="1.6"/><path d="M-1.5,-4 A2.9,4 0 0 0 -1.5,4" stroke-width="0.7"/></g>
<g transform="translate(527.9,383.6) rotate(34)"><path d="M-33,-8.0 L0,-8.0 L0,8.0 L-33,8.0 A5.76,8.0 0 0 1 -33,-8.0Z" fill="#fff"/><path d="M-3.4,-8.0 A5.8,8.0 0 0 1 -3.4,8.0" stroke-width="1.8"/><path d="M-6.5,-8.0 A5.8,8.0 0 0 1 -6.5,8.0" stroke-width="1.8"/><path d="M-9.7,-8.0 A5.8,8.0 0 0 1 -9.7,8.0" stroke-width="1.8"/><path d="M-12.8,-8.0 A5.8,8.0 0 0 1 -12.8,8.0" stroke-width="1.8"/><path d="M-16,-8.0 A5.8,8.0 0 0 1 -16,8.0" stroke-width="1.8"/><path d="M-19.1,-8.0 A5.8,8.0 0 0 1 -19.1,8.0" stroke-width="1.8"/><path d="M-22.3,-8.0 A5.8,8.0 0 0 1 -22.3,8.0" stroke-width="1.8"/><ellipse cx="0" cy="0" rx="5.8" ry="8" fill="#fff" stroke-width="1.1"/><ellipse cx="0.3" cy="0" rx="3.6" ry="5" fill="#fff" stroke-width="1.6"/><path d="M-1.5,-4 A2.9,4 0 0 0 -1.5,4" stroke-width="0.7"/></g>
<g transform="translate(515,386.6) rotate(34)"><path d="M-33,-8.0 L0,-8.0 L0,8.0 L-33,8.0 A5.76,8.0 0 0 1 -33,-8.0Z" fill="#fff"/><path d="M-3.4,-8.0 A5.8,8.0 0 0 1 -3.4,8.0" stroke-width="1.8"/><path d="M-6.5,-8.0 A5.8,8.0 0 0 1 -6.5,8.0" stroke-width="1.8"/><path d="M-9.7,-8.0 A5.8,8.0 0 0 1 -9.7,8.0" stroke-width="1.8"/><path d="M-12.8,-8.0 A5.8,8.0 0 0 1 -12.8,8.0" stroke-width="1.8"/><path d="M-16,-8.0 A5.8,8.0 0 0 1 -16,8.0" stroke-width="1.8"/><path d="M-19.1,-8.0 A5.8,8.0 0 0 1 -19.1,8.0" stroke-width="1.8"/><path d="M-22.3,-8.0 A5.8,8.0 0 0 1 -22.3,8.0" stroke-width="1.8"/><ellipse cx="0" cy="0" rx="5.8" ry="8" fill="#fff" stroke-width="1.1"/><ellipse cx="0.3" cy="0" rx="3.6" ry="5" fill="#fff" stroke-width="1.6"/><path d="M-1.5,-4 A2.9,4 0 0 0 -1.5,4" stroke-width="0.7"/></g>
<g transform="translate(536.5,332) rotate(34.3)"><path d="M-42,-10.5 L-38.5,-10.5 A7.6,10.5 0 0 1 -38.5,10.5 L-42,10.5 Z" fill="#fff"/><ellipse cx="-42" cy="0" rx="7.6" ry="10.5" fill="#fff" stroke-width="1.1"/><ellipse cx="-41.6" cy="0" rx="6.2" ry="8.6" fill="none" stroke-width="0.7"/><path d="M-38.5,-6.5 L-34,-6.5 L-34,6.5 L-38.5,6.5 Z" fill="#fff" stroke="none"/><path d="M-38.5,-6.5 L-34,-6.5 M-38.5,6.5 L-34,6.5" /><path d="M-35,-9 L-33,-9 A6.5,9 0 0 1 -33,9 L-35,9 Z" fill="#fff"/><ellipse cx="-35" cy="0" rx="6.5" ry="9" fill="#fff" stroke-width="1.0"/><path d="M-33,-8.0 L0,-8.0 L0,8.0 L-33,8.0 A5.76,8.0 0 0 1 -33,-8.0Z" fill="#fff"/><path d="M-3.4,-8.0 A5.8,8.0 0 0 1 -3.4,8.0" stroke-width="1.8"/><path d="M-6.5,-8.0 A5.8,8.0 0 0 1 -6.5,8.0" stroke-width="1.8"/><path d="M-9.7,-8.0 A5.8,8.0 0 0 1 -9.7,8.0" stroke-width="1.8"/><path d="M-12.8,-8.0 A5.8,8.0 0 0 1 -12.8,8.0" stroke-width="1.8"/><path d="M-16,-8.0 A5.8,8.0 0 0 1 -16,8.0" stroke-width="1.8"/><path d="M-19.1,-8.0 A5.8,8.0 0 0 1 -19.1,8.0" stroke-width="1.8"/><path d="M-22.3,-8.0 A5.8,8.0 0 0 1 -22.3,8.0" stroke-width="1.8"/><ellipse cx="0" cy="0" rx="5.8" ry="8" fill="#fff" stroke-width="1.1"/><ellipse cx="0.3" cy="0" rx="3.6" ry="5" fill="#fff" stroke-width="1.6"/><path d="M-1.5,-4 A2.9,4 0 0 0 -1.5,4" stroke-width="0.7"/></g>
<g transform="translate(521.6,339.4) rotate(33.2)"><path d="M-42,-10.5 L-38.5,-10.5 A7.6,10.5 0 0 1 -38.5,10.5 L-42,10.5 Z" fill="#fff"/><ellipse cx="-42" cy="0" rx="7.6" ry="10.5" fill="#fff" stroke-width="1.1"/><ellipse cx="-41.6" cy="0" rx="6.2" ry="8.6" fill="none" stroke-width="0.7"/><path d="M-38.5,-6.5 L-34,-6.5 L-34,6.5 L-38.5,6.5 Z" fill="#fff" stroke="none"/><path d="M-38.5,-6.5 L-34,-6.5 M-38.5,6.5 L-34,6.5" /><path d="M-35,-9 L-33,-9 A6.5,9 0 0 1 -33,9 L-35,9 Z" fill="#fff"/><ellipse cx="-35" cy="0" rx="6.5" ry="9" fill="#fff" stroke-width="1.0"/><path d="M-33,-8.0 L0,-8.0 L0,8.0 L-33,8.0 A5.76,8.0 0 0 1 -33,-8.0Z" fill="#fff"/><path d="M-3.4,-8.0 A5.8,8.0 0 0 1 -3.4,8.0" stroke-width="1.8"/><path d="M-6.5,-8.0 A5.8,8.0 0 0 1 -6.5,8.0" stroke-width="1.8"/><path d="M-9.7,-8.0 A5.8,8.0 0 0 1 -9.7,8.0" stroke-width="1.8"/><path d="M-12.8,-8.0 A5.8,8.0 0 0 1 -12.8,8.0" stroke-width="1.8"/><path d="M-16,-8.0 A5.8,8.0 0 0 1 -16,8.0" stroke-width="1.8"/><path d="M-19.1,-8.0 A5.8,8.0 0 0 1 -19.1,8.0" stroke-width="1.8"/><path d="M-22.3,-8.0 A5.8,8.0 0 0 1 -22.3,8.0" stroke-width="1.8"/><ellipse cx="0" cy="0" rx="5.8" ry="8" fill="#fff" stroke-width="1.1"/><ellipse cx="0.3" cy="0" rx="3.6" ry="5" fill="#fff" stroke-width="1.6"/><path d="M-1.5,-4 A2.9,4 0 0 0 -1.5,4" stroke-width="0.7"/></g>
<g transform="translate(510,357.2) rotate(32.4)"><path d="M-42,-10.5 L-38.5,-10.5 A7.6,10.5 0 0 1 -38.5,10.5 L-42,10.5 Z" fill="#fff"/><ellipse cx="-42" cy="0" rx="7.6" ry="10.5" fill="#fff" stroke-width="1.1"/><ellipse cx="-41.6" cy="0" rx="6.2" ry="8.6" fill="none" stroke-width="0.7"/><path d="M-38.5,-6.5 L-34,-6.5 L-34,6.5 L-38.5,6.5 Z" fill="#fff" stroke="none"/><path d="M-38.5,-6.5 L-34,-6.5 M-38.5,6.5 L-34,6.5" /><path d="M-35,-9 L-33,-9 A6.5,9 0 0 1 -33,9 L-35,9 Z" fill="#fff"/><ellipse cx="-35" cy="0" rx="6.5" ry="9" fill="#fff" stroke-width="1.0"/><path d="M-33,-8.0 L0,-8.0 L0,8.0 L-33,8.0 A5.76,8.0 0 0 1 -33,-8.0Z" fill="#fff"/><path d="M-3.4,-8.0 A5.8,8.0 0 0 1 -3.4,8.0" stroke-width="1.8"/><path d="M-6.5,-8.0 A5.8,8.0 0 0 1 -6.5,8.0" stroke-width="1.8"/><path d="M-9.7,-8.0 A5.8,8.0 0 0 1 -9.7,8.0" stroke-width="1.8"/><path d="M-12.8,-8.0 A5.8,8.0 0 0 1 -12.8,8.0" stroke-width="1.8"/><path d="M-16,-8.0 A5.8,8.0 0 0 1 -16,8.0" stroke-width="1.8"/><path d="M-19.1,-8.0 A5.8,8.0 0 0 1 -19.1,8.0" stroke-width="1.8"/><path d="M-22.3,-8.0 A5.8,8.0 0 0 1 -22.3,8.0" stroke-width="1.8"/><ellipse cx="0" cy="0" rx="5.8" ry="8" fill="#fff" stroke-width="1.1"/><ellipse cx="0.3" cy="0" rx="3.6" ry="5" fill="#fff" stroke-width="1.6"/><path d="M-1.5,-4 A2.9,4 0 0 0 -1.5,4" stroke-width="0.7"/></g>
<g transform="translate(508,375.2) rotate(33.4)"><path d="M-42,-10.5 L-38.5,-10.5 A7.6,10.5 0 0 1 -38.5,10.5 L-42,10.5 Z" fill="#fff"/><ellipse cx="-42" cy="0" rx="7.6" ry="10.5" fill="#fff" stroke-width="1.1"/><ellipse cx="-41.6" cy="0" rx="6.2" ry="8.6" fill="none" stroke-width="0.7"/><path d="M-38.5,-6.5 L-34,-6.5 L-34,6.5 L-38.5,6.5 Z" fill="#fff" stroke="none"/><path d="M-38.5,-6.5 L-34,-6.5 M-38.5,6.5 L-34,6.5" /><path d="M-35,-9 L-33,-9 A6.5,9 0 0 1 -33,9 L-35,9 Z" fill="#fff"/><ellipse cx="-35" cy="0" rx="6.5" ry="9" fill="#fff" stroke-width="1.0"/><path d="M-33,-8.0 L0,-8.0 L0,8.0 L-33,8.0 A5.76,8.0 0 0 1 -33,-8.0Z" fill="#fff"/><path d="M-3.4,-8.0 A5.8,8.0 0 0 1 -3.4,8.0" stroke-width="1.8"/><path d="M-6.5,-8.0 A5.8,8.0 0 0 1 -6.5,8.0" stroke-width="1.8"/><path d="M-9.7,-8.0 A5.8,8.0 0 0 1 -9.7,8.0" stroke-width="1.8"/><path d="M-12.8,-8.0 A5.8,8.0 0 0 1 -12.8,8.0" stroke-width="1.8"/><path d="M-16,-8.0 A5.8,8.0 0 0 1 -16,8.0" stroke-width="1.8"/><path d="M-19.1,-8.0 A5.8,8.0 0 0 1 -19.1,8.0" stroke-width="1.8"/><path d="M-22.3,-8.0 A5.8,8.0 0 0 1 -22.3,8.0" stroke-width="1.8"/><ellipse cx="0" cy="0" rx="5.8" ry="8" fill="#fff" stroke-width="1.1"/><ellipse cx="0.3" cy="0" rx="3.6" ry="5" fill="#fff" stroke-width="1.6"/><path d="M-1.5,-4 A2.9,4 0 0 0 -1.5,4" stroke-width="0.7"/></g>
<text x="96.4" y="19.1" font-size="14.0">1</text>
<line x1="98.3" y1="22.2" x2="107.7" y2="21.3" stroke-width="1.15"/>
<line x1="98.3" y1="22.2" x2="96.4" y2="48.4" stroke-width="1.15"/>
<path d="M96.4,48.9 L95.5,42.8 L98.1,43Z" fill="#1e1e1e" stroke="none"/>
<text x="164.6" y="74.7" font-size="16.5">2-C</text>
<line x1="161.3" y1="78.2" x2="197.5" y2="74.3" stroke-width="1.15"/>
<line x1="161.3" y1="78.2" x2="159.7" y2="105" stroke-width="1.15"/>
<path d="M159.7,105.5 L158.7,99.4 L161.3,99.6Z" fill="#1e1e1e" stroke="none"/>
<text x="53.2" y="150" font-size="16.5">2-B</text>
<line x1="49.3" y1="154.2" x2="85" y2="150" stroke-width="1.15"/>
<line x1="49.3" y1="154.2" x2="47.3" y2="179.9" stroke-width="1.15"/>
<path d="M47.3,180.4 L46.4,174.3 L49,174.5Z" fill="#1e1e1e" stroke="none"/>
<text x="322.8" y="109.1" font-size="16.0">3-A</text>
<line x1="319.3" y1="113.3" x2="350.9" y2="109.7" stroke-width="1.15"/>
<line x1="319.3" y1="113.3" x2="317.5" y2="138" stroke-width="1.15"/>
<path d="M317.5,138.5 L316.6,132.4 L319.2,132.6Z" fill="#1e1e1e" stroke="none"/>
<text x="383.2" y="131.8" font-size="15.5">15</text>
<line x1="380.2" y1="134.4" x2="402.4" y2="132.7" stroke-width="1.15"/>
<line x1="380.2" y1="134.4" x2="378.4" y2="158.9" stroke-width="1.15"/>
<path d="M378.4,159.4 L377.5,153.3 L380.1,153.5Z" fill="#1e1e1e" stroke="none"/>
<text x="420.3" y="207.5" font-size="16.5">7</text>
<line x1="416.7" y1="211" x2="431.2" y2="208.7" stroke-width="1.15"/>
<line x1="416.7" y1="211" x2="408.1" y2="226.5" stroke-width="1.15"/>
<path d="M407.9,226.9 L409.6,221.1 L411.9,222.3Z" fill="#1e1e1e" stroke="none"/>
<text x="436.9" y="221.9" font-size="14.0">4</text>
<line x1="433.5" y1="224.8" x2="447.3" y2="222.8" stroke-width="1.15"/>
<line x1="433.5" y1="224.8" x2="425.6" y2="235.8" stroke-width="1.15"/>
<path d="M425.3,236.2 L427.8,230.6 L429.9,232.1Z" fill="#1e1e1e" stroke="none"/>
<text x="455.5" y="228.8" font-size="14.5">6</text>
<line x1="453.7" y1="231.2" x2="466.9" y2="229.8" stroke-width="1.15"/>
<line x1="453.7" y1="231.2" x2="450.2" y2="247.3" stroke-width="1.15"/>
<path d="M450.1,247.8 L450.1,241.6 L452.6,242.2Z" fill="#1e1e1e" stroke="none"/>
<text x="491" y="256" font-size="14.0">5</text>
<line x1="489.2" y1="259.1" x2="504.1" y2="257.4" stroke-width="1.15"/>
<line x1="489.2" y1="259.1" x2="485" y2="273.4" stroke-width="1.15"/>
<path d="M484.9,273.9 L485.3,267.8 L487.8,268.5Z" fill="#1e1e1e" stroke="none"/>
<text x="527.6" y="283.3" font-size="14.5">8</text>
<line x1="524.7" y1="286.8" x2="540.3" y2="284.7" stroke-width="1.15"/>
<line x1="524.7" y1="286.8" x2="523.3" y2="310.3" stroke-width="1.15"/>
<path d="M523.3,310.8 L522.3,304.7 L524.9,304.9Z" fill="#1e1e1e" stroke="none"/>
<text x="606.8" y="325" font-size="16.5">9</text>
<line x1="606.4" y1="328.1" x2="619.8" y2="326.3" stroke-width="1.15"/>
<line x1="606.4" y1="328.1" x2="597.6" y2="351.2" stroke-width="1.15"/>
<path d="M597.4,351.7 L598.3,345.6 L600.8,346.5Z" fill="#1e1e1e" stroke="none"/>
<text x="678.7" y="366" font-size="16.0">10</text>
<line x1="677" y1="369.4" x2="698.8" y2="367.6" stroke-width="1.15"/>
<line x1="677" y1="369.4" x2="666.8" y2="394" stroke-width="1.15"/>
<path d="M666.6,394.5 L667.7,388.4 L670.1,389.4Z" fill="#1e1e1e" stroke="none"/>
<text x="729.6" y="437.3" font-size="14.0">11</text>
<line x1="727.7" y1="441.7" x2="746.8" y2="439.9" stroke-width="1.15"/>
<line x1="727.7" y1="441.7" x2="719.6" y2="458.1" stroke-width="1.15"/>
<path d="M719.4,458.5 L720.9,452.6 L723.2,453.7Z" fill="#1e1e1e" stroke="none"/>
<text x="749.8" y="448.6" font-size="15.5">12</text>
<line x1="748.5" y1="452.9" x2="770.2" y2="450.3" stroke-width="1.15"/>
<line x1="748.5" y1="452.9" x2="741.6" y2="472" stroke-width="1.15"/>
<path d="M741.4,472.5 L742.2,466.4 L744.7,467.3Z" fill="#1e1e1e" stroke="none"/>
<text x="771.2" y="459.8" font-size="14.5">13</text>
<line x1="764.7" y1="464.1" x2="785.4" y2="462.1" stroke-width="1.15"/>
<line x1="764.7" y1="464.1" x2="756" y2="478.9" stroke-width="1.15"/>
<path d="M755.7,479.3 L757.7,473.5 L759.9,474.8Z" fill="#1e1e1e" stroke="none"/>
<text x="805" y="456.7" font-size="14.5">14</text>
<line x1="804.2" y1="460.3" x2="826.4" y2="457.6" stroke-width="1.15"/>
<line x1="804.2" y1="460.3" x2="796.7" y2="479.4" stroke-width="1.15"/>
<path d="M796.5,479.9 L797.5,473.8 L799.9,474.8Z" fill="#1e1e1e" stroke="none"/>
<text x="653.5" y="44" font-size="14.0">3</text>
<line x1="654.2" y1="46.2" x2="662.7" y2="46.2" stroke-width="1.15"/>
<line x1="654.2" y1="46.2" x2="645" y2="59.8" stroke-width="1.15"/>
<path d="M644.7,60.2 L647,54.5 L649.2,56Z" fill="#1e1e1e" stroke="none"/>
<text x="764.2" y="191.4" font-size="14.5">2-A</text>
<line x1="763" y1="193.3" x2="786.1" y2="193.3" stroke-width="1.15"/>
<line x1="763" y1="193.3" x2="754.6" y2="205.1" stroke-width="1.15"/>
<path d="M754.3,205.5 L756.7,199.9 L758.8,201.4Z" fill="#1e1e1e" stroke="none"/>
<text x="382.2" y="377" font-size="16.5">3-B</text>
<line x1="379.3" y1="380.9" x2="413.5" y2="377.3" stroke-width="1.15"/>
<line x1="379.3" y1="380.9" x2="377.3" y2="406.8" stroke-width="1.15"/>
<path d="M377.3,407.3 L376.4,401.2 L379,401.4Z" fill="#1e1e1e" stroke="none"/>
<text x="213.9" y="339.5" font-size="16.0">15</text>
<line x1="217.4" y1="342.3" x2="239.5" y2="339.5" stroke-width="1.15"/>
<line x1="239.5" y1="339.5" x2="238.9" y2="322.8" stroke-width="1.15"/>
<path d="M238.9,322.3 L240.4,328.2 L237.8,328.3Z" fill="#1e1e1e" stroke="none"/>
</svg>
</body></html>
